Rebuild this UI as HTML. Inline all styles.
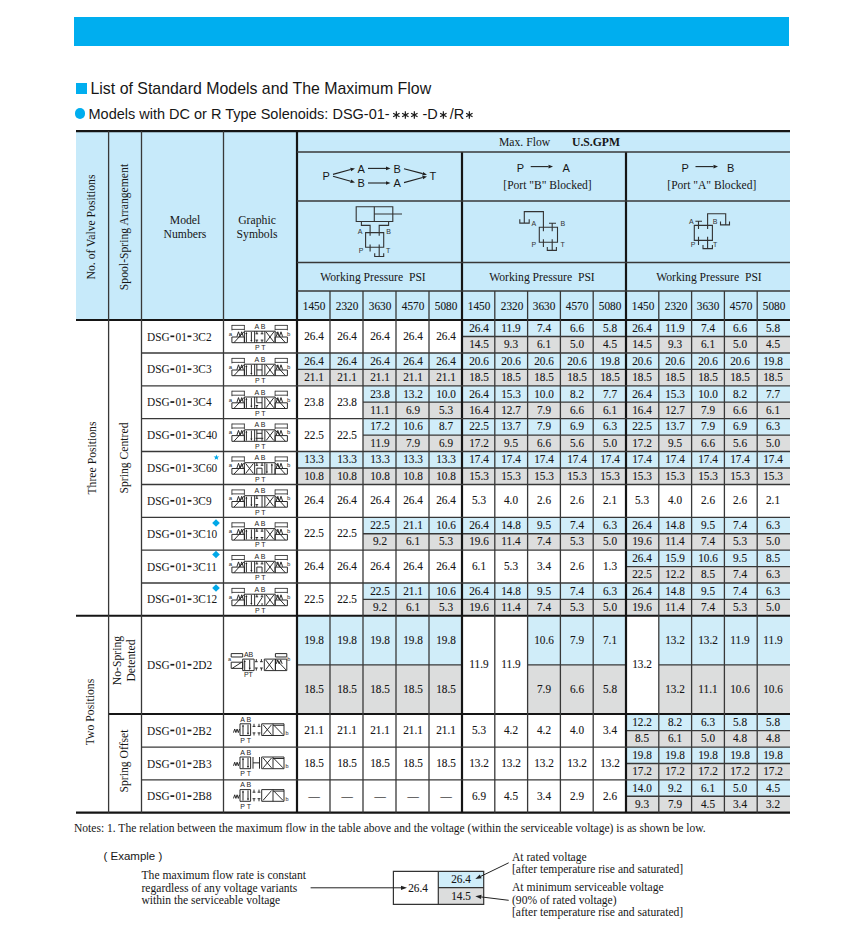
<!DOCTYPE html>
<html><head><meta charset="utf-8"><style>
html,body{margin:0;padding:0;background:#fff;}
.astw{margin:0 4.1px 0 2.6px;}
.astx{margin:0 2.2px 0 1.1px;}
.as{vertical-align:-0.3px;margin:0;}
.n{position:absolute;width:100px;height:20px;line-height:20px;text-align:center;font-family:"Liberation Serif",serif;font-size:12.5px;color:#161616;transform:scaleX(0.9);white-space:pre;-webkit-text-stroke:0.12px #161616;}
.d{display:inline-block;width:4.2px;height:0;border-top:2px solid transparent;vertical-align:3px;margin:0 1.2px 0 0.9px;}
body{width:860px;height:932px;position:relative;overflow:hidden;color:#161616;}
</style></head><body>
<div style="position:absolute;left:74px;top:17px;width:715px;height:29px;background:#00aeef"></div><div style="position:absolute;left:76px;top:83px;width:11px;height:11px;background:#00aeef"></div><div style="position:absolute;left:90.5px;top:78.5px;height:20px;line-height:20px;font-family:'Liberation Sans',serif;font-size:15.9px;font-weight:normal;white-space:pre;color:#161616">List of Standard Models and The Maximum Flow</div><div style="position:absolute;left:74.5px;top:108px;width:10.5px;height:10.5px;background:#00aeef;border-radius:50%"></div><div style="position:absolute;left:88.5px;top:103.5px;height:20px;line-height:20px;font-family:'Liberation Sans',serif;font-size:14.5px;font-weight:normal;white-space:pre;color:#161616">Models with DC or R Type Solenoids: DSG-01-<span class=astw><svg class=as width=8.7 height=8 viewBox='-4.35 -4 8.7 8'><path d='M0 -3.7V3.7M3.20 1.85L-3.20 -1.85M-3.20 1.85L3.20 -1.85' stroke='#1a1a1a' stroke-width='1.2'/></svg><svg class=as width=8.7 height=8 viewBox='-4.35 -4 8.7 8'><path d='M0 -3.7V3.7M3.20 1.85L-3.20 -1.85M-3.20 1.85L3.20 -1.85' stroke='#1a1a1a' stroke-width='1.2'/></svg><svg class=as width=8.7 height=8 viewBox='-4.35 -4 8.7 8'><path d='M0 -3.7V3.7M3.20 1.85L-3.20 -1.85M-3.20 1.85L3.20 -1.85' stroke='#1a1a1a' stroke-width='1.2'/></svg></span>-D<span class=astx><svg class=as width=8.7 height=8 viewBox='-4.35 -4 8.7 8'><path d='M0 -3.7V3.7M3.20 1.85L-3.20 -1.85M-3.20 1.85L3.20 -1.85' stroke='#1a1a1a' stroke-width='1.2'/></svg></span>/R<span class=astx><svg class=as width=8.7 height=8 viewBox='-4.35 -4 8.7 8'><path d='M0 -3.7V3.7M3.20 1.85L-3.20 -1.85M-3.20 1.85L3.20 -1.85' stroke='#1a1a1a' stroke-width='1.2'/></svg></span></div><div style="position:absolute;left:76px;top:131.1px;width:714px;height:188.9px;background:#c7eafa"></div><div style="position:absolute;left:-8.0px;top:216.5px;width:200px;height:20px;line-height:20px;text-align:center;transform:rotate(-90deg);font-family:'Liberation Serif',serif;font-size:11.7px;color:#161616;white-space:pre">No. of Valve Positions</div><div style="position:absolute;left:24.5px;top:217px;width:200px;height:20px;line-height:20px;text-align:center;transform:rotate(-90deg);font-family:'Liberation Serif',serif;font-size:11.7px;color:#161616;white-space:pre">Spool-Spring Arrangement</div><div style="position:absolute;left:35px;top:210.5px;width:300px;height:20px;line-height:20px;text-align:center;font-family:'Liberation Serif',serif;font-size:11.7px;font-weight:normal;white-space:pre;color:#161616">Model</div><div style="position:absolute;left:35px;top:225px;width:300px;height:20px;line-height:20px;text-align:center;font-family:'Liberation Serif',serif;font-size:11.7px;font-weight:normal;white-space:pre;color:#161616">Numbers</div><div style="position:absolute;left:107px;top:210.5px;width:300px;height:20px;line-height:20px;text-align:center;font-family:'Liberation Serif',serif;font-size:11.7px;font-weight:normal;white-space:pre;color:#161616">Graphic</div><div style="position:absolute;left:107px;top:225px;width:300px;height:20px;line-height:20px;text-align:center;font-family:'Liberation Serif',serif;font-size:11.7px;font-weight:normal;white-space:pre;color:#161616">Symbols</div><div style="position:absolute;left:499.2px;top:132px;height:20px;line-height:20px;font-family:'Liberation Serif',serif;font-size:12.6px;font-weight:normal;white-space:pre;color:#161616;transform:scaleX(0.925);transform-origin:0 50%">Max. Flow</div><div style="position:absolute;left:572.4px;top:132px;height:20px;line-height:20px;font-family:'Liberation Serif',serif;font-size:12.6px;font-weight:bold;white-space:pre;color:#161616;transform:scaleX(0.925);transform-origin:0 50%">U.S.GPM</div><div style="position:absolute;left:223px;top:267.3px;width:300px;height:20px;line-height:20px;text-align:center;font-family:'Liberation Serif',serif;font-size:12.6px;font-weight:normal;white-space:pre;color:#161616;transform:scaleX(0.925)">Working Pressure  PSI</div><div class="n" style="left:263.80px;top:295.80px;">1450</div><div class="n" style="left:296.80px;top:295.80px;">2320</div><div class="n" style="left:329.80px;top:295.80px;">3630</div><div class="n" style="left:362.80px;top:295.80px;">4570</div><div class="n" style="left:395.80px;top:295.80px;">5080</div><div style="position:absolute;left:392.29999999999995px;top:267.3px;width:300px;height:20px;line-height:20px;text-align:center;font-family:'Liberation Serif',serif;font-size:12.6px;font-weight:normal;white-space:pre;color:#161616;transform:scaleX(0.925)">Working Pressure  PSI</div><div class="n" style="left:428.70px;top:295.80px;">1450</div><div class="n" style="left:461.50px;top:295.80px;">2320</div><div class="n" style="left:494.30px;top:295.80px;">3630</div><div class="n" style="left:527.10px;top:295.80px;">4570</div><div class="n" style="left:559.90px;top:295.80px;">5080</div><div style="position:absolute;left:559.2px;top:267.3px;width:300px;height:20px;line-height:20px;text-align:center;font-family:'Liberation Serif',serif;font-size:12.6px;font-weight:normal;white-space:pre;color:#161616;transform:scaleX(0.925)">Working Pressure  PSI</div><div class="n" style="left:592.70px;top:295.80px;">1450</div><div class="n" style="left:625.50px;top:295.80px;">2320</div><div class="n" style="left:658.30px;top:295.80px;">3630</div><div class="n" style="left:691.10px;top:295.80px;">4570</div><div class="n" style="left:723.90px;top:295.80px;">5080</div><div style="position:absolute;left:516.8px;top:158px;height:20px;line-height:20px;font-family:'Liberation Sans',serif;font-size:11px;font-weight:normal;white-space:pre;color:#161616">P</div><div style="position:absolute;left:562.5px;top:158px;height:20px;line-height:20px;font-family:'Liberation Sans',serif;font-size:11px;font-weight:normal;white-space:pre;color:#161616">A</div><div style="position:absolute;left:397.5px;top:175px;width:300px;height:20px;line-height:20px;text-align:center;font-family:'Liberation Serif',serif;font-size:11.55px;font-weight:normal;white-space:pre;color:#161616">[Port "B" Blocked]</div><div style="position:absolute;left:681.5px;top:158px;height:20px;line-height:20px;font-family:'Liberation Sans',serif;font-size:11px;font-weight:normal;white-space:pre;color:#161616">P</div><div style="position:absolute;left:727px;top:158px;height:20px;line-height:20px;font-family:'Liberation Sans',serif;font-size:11px;font-weight:normal;white-space:pre;color:#161616">B</div><div style="position:absolute;left:561.8px;top:175px;width:300px;height:20px;line-height:20px;text-align:center;font-family:'Liberation Serif',serif;font-size:11.55px;font-weight:normal;white-space:pre;color:#161616">[Port "A" Blocked]</div><div style="position:absolute;left:322.6px;top:166px;height:20px;line-height:20px;font-family:'Liberation Sans',serif;font-size:11px;font-weight:normal;white-space:pre;color:#161616">P</div><div style="position:absolute;left:357.4px;top:159px;height:20px;line-height:20px;font-family:'Liberation Sans',serif;font-size:11px;font-weight:normal;white-space:pre;color:#161616">A</div><div style="position:absolute;left:393.4px;top:159px;height:20px;line-height:20px;font-family:'Liberation Sans',serif;font-size:11px;font-weight:normal;white-space:pre;color:#161616">B</div><div style="position:absolute;left:357.4px;top:173px;height:20px;line-height:20px;font-family:'Liberation Sans',serif;font-size:11px;font-weight:normal;white-space:pre;color:#161616">B</div><div style="position:absolute;left:393.6px;top:173px;height:20px;line-height:20px;font-family:'Liberation Sans',serif;font-size:11px;font-weight:normal;white-space:pre;color:#161616">A</div><div style="position:absolute;left:429.4px;top:166px;height:20px;line-height:20px;font-family:'Liberation Sans',serif;font-size:11px;font-weight:normal;white-space:pre;color:#161616">T</div><div class="n" style="left:264.20px;top:326.00px;">26.4</div><div class="n" style="left:297.20px;top:326.00px;">26.4</div><div class="n" style="left:330.20px;top:326.00px;">26.4</div><div class="n" style="left:363.20px;top:326.00px;">26.4</div><div class="n" style="left:396.20px;top:326.00px;">26.4</div><div style="position:absolute;left:297.0px;top:353px;width:33.0px;height:16.399999999999977px;background:#d0edf9"></div><div style="position:absolute;left:297.0px;top:369.4px;width:33.0px;height:16.400000000000034px;background:#dcdddd"></div><div class="n" style="left:264.20px;top:350.70px;">26.4</div><div class="n" style="left:264.20px;top:367.10px;">21.1</div><div style="position:absolute;left:330.0px;top:353px;width:33.0px;height:16.399999999999977px;background:#d0edf9"></div><div style="position:absolute;left:330.0px;top:369.4px;width:33.0px;height:16.400000000000034px;background:#dcdddd"></div><div class="n" style="left:297.20px;top:350.70px;">26.4</div><div class="n" style="left:297.20px;top:367.10px;">21.1</div><div style="position:absolute;left:363.0px;top:353px;width:33.0px;height:16.399999999999977px;background:#d0edf9"></div><div style="position:absolute;left:363.0px;top:369.4px;width:33.0px;height:16.400000000000034px;background:#dcdddd"></div><div class="n" style="left:330.20px;top:350.70px;">26.4</div><div class="n" style="left:330.20px;top:367.10px;">21.1</div><div style="position:absolute;left:396.0px;top:353px;width:33.0px;height:16.399999999999977px;background:#d0edf9"></div><div style="position:absolute;left:396.0px;top:369.4px;width:33.0px;height:16.400000000000034px;background:#dcdddd"></div><div class="n" style="left:363.20px;top:350.70px;">26.4</div><div class="n" style="left:363.20px;top:367.10px;">21.1</div><div style="position:absolute;left:429.0px;top:353px;width:33.0px;height:16.399999999999977px;background:#d0edf9"></div><div style="position:absolute;left:429.0px;top:369.4px;width:33.0px;height:16.400000000000034px;background:#dcdddd"></div><div class="n" style="left:396.20px;top:350.70px;">26.4</div><div class="n" style="left:396.20px;top:367.10px;">21.1</div><div class="n" style="left:264.20px;top:391.70px;">23.8</div><div class="n" style="left:297.20px;top:391.70px;">23.8</div><div style="position:absolute;left:363.0px;top:385.8px;width:33.0px;height:16.400000000000034px;background:#d0edf9"></div><div style="position:absolute;left:363.0px;top:402.20000000000005px;width:33.0px;height:16.399999999999977px;background:#dcdddd"></div><div class="n" style="left:330.20px;top:383.50px;">23.8</div><div class="n" style="left:330.20px;top:399.90px;">11.1</div><div style="position:absolute;left:396.0px;top:385.8px;width:33.0px;height:16.400000000000034px;background:#d0edf9"></div><div style="position:absolute;left:396.0px;top:402.20000000000005px;width:33.0px;height:16.399999999999977px;background:#dcdddd"></div><div class="n" style="left:363.20px;top:383.50px;">13.2</div><div class="n" style="left:363.20px;top:399.90px;">6.9</div><div style="position:absolute;left:429.0px;top:385.8px;width:33.0px;height:16.400000000000034px;background:#d0edf9"></div><div style="position:absolute;left:429.0px;top:402.20000000000005px;width:33.0px;height:16.399999999999977px;background:#dcdddd"></div><div class="n" style="left:396.20px;top:383.50px;">10.0</div><div class="n" style="left:396.20px;top:399.90px;">5.3</div><div class="n" style="left:264.20px;top:424.55px;">22.5</div><div class="n" style="left:297.20px;top:424.55px;">22.5</div><div style="position:absolute;left:363.0px;top:418.6px;width:33.0px;height:16.44999999999999px;background:#d0edf9"></div><div style="position:absolute;left:363.0px;top:435.05px;width:33.0px;height:16.44999999999999px;background:#dcdddd"></div><div class="n" style="left:330.20px;top:416.33px;">17.2</div><div class="n" style="left:330.20px;top:432.77px;">11.9</div><div style="position:absolute;left:396.0px;top:418.6px;width:33.0px;height:16.44999999999999px;background:#d0edf9"></div><div style="position:absolute;left:396.0px;top:435.05px;width:33.0px;height:16.44999999999999px;background:#dcdddd"></div><div class="n" style="left:363.20px;top:416.33px;">10.6</div><div class="n" style="left:363.20px;top:432.77px;">7.9</div><div style="position:absolute;left:429.0px;top:418.6px;width:33.0px;height:16.44999999999999px;background:#d0edf9"></div><div style="position:absolute;left:429.0px;top:435.05px;width:33.0px;height:16.44999999999999px;background:#dcdddd"></div><div class="n" style="left:396.20px;top:416.33px;">8.7</div><div class="n" style="left:396.20px;top:432.77px;">6.9</div><div style="position:absolute;left:297.0px;top:451.5px;width:33.0px;height:16.5px;background:#d0edf9"></div><div style="position:absolute;left:297.0px;top:468.0px;width:33.0px;height:16.5px;background:#dcdddd"></div><div class="n" style="left:264.20px;top:449.25px;">13.3</div><div class="n" style="left:264.20px;top:465.75px;">10.8</div><div style="position:absolute;left:330.0px;top:451.5px;width:33.0px;height:16.5px;background:#d0edf9"></div><div style="position:absolute;left:330.0px;top:468.0px;width:33.0px;height:16.5px;background:#dcdddd"></div><div class="n" style="left:297.20px;top:449.25px;">13.3</div><div class="n" style="left:297.20px;top:465.75px;">10.8</div><div style="position:absolute;left:363.0px;top:451.5px;width:33.0px;height:16.5px;background:#d0edf9"></div><div style="position:absolute;left:363.0px;top:468.0px;width:33.0px;height:16.5px;background:#dcdddd"></div><div class="n" style="left:330.20px;top:449.25px;">13.3</div><div class="n" style="left:330.20px;top:465.75px;">10.8</div><div style="position:absolute;left:396.0px;top:451.5px;width:33.0px;height:16.5px;background:#d0edf9"></div><div style="position:absolute;left:396.0px;top:468.0px;width:33.0px;height:16.5px;background:#dcdddd"></div><div class="n" style="left:363.20px;top:449.25px;">13.3</div><div class="n" style="left:363.20px;top:465.75px;">10.8</div><div style="position:absolute;left:429.0px;top:451.5px;width:33.0px;height:16.5px;background:#d0edf9"></div><div style="position:absolute;left:429.0px;top:468.0px;width:33.0px;height:16.5px;background:#dcdddd"></div><div class="n" style="left:396.20px;top:449.25px;">13.3</div><div class="n" style="left:396.20px;top:465.75px;">10.8</div><div class="n" style="left:264.20px;top:490.45px;">26.4</div><div class="n" style="left:297.20px;top:490.45px;">26.4</div><div class="n" style="left:330.20px;top:490.45px;">26.4</div><div class="n" style="left:363.20px;top:490.45px;">26.4</div><div class="n" style="left:396.20px;top:490.45px;">26.4</div><div class="n" style="left:264.20px;top:523.25px;">22.5</div><div class="n" style="left:297.20px;top:523.25px;">22.5</div><div style="position:absolute;left:363.0px;top:517.4px;width:33.0px;height:16.350000000000023px;background:#d0edf9"></div><div style="position:absolute;left:363.0px;top:533.75px;width:33.0px;height:16.350000000000023px;background:#dcdddd"></div><div class="n" style="left:330.20px;top:515.08px;">22.5</div><div class="n" style="left:330.20px;top:531.42px;">9.2</div><div style="position:absolute;left:396.0px;top:517.4px;width:33.0px;height:16.350000000000023px;background:#d0edf9"></div><div style="position:absolute;left:396.0px;top:533.75px;width:33.0px;height:16.350000000000023px;background:#dcdddd"></div><div class="n" style="left:363.20px;top:515.08px;">21.1</div><div class="n" style="left:363.20px;top:531.42px;">6.1</div><div style="position:absolute;left:429.0px;top:517.4px;width:33.0px;height:16.350000000000023px;background:#d0edf9"></div><div style="position:absolute;left:429.0px;top:533.75px;width:33.0px;height:16.350000000000023px;background:#dcdddd"></div><div class="n" style="left:396.20px;top:515.08px;">10.6</div><div class="n" style="left:396.20px;top:531.42px;">5.3</div><div class="n" style="left:264.20px;top:556.05px;">26.4</div><div class="n" style="left:297.20px;top:556.05px;">26.4</div><div class="n" style="left:330.20px;top:556.05px;">26.4</div><div class="n" style="left:363.20px;top:556.05px;">26.4</div><div class="n" style="left:396.20px;top:556.05px;">26.4</div><div class="n" style="left:264.20px;top:588.90px;">22.5</div><div class="n" style="left:297.20px;top:588.90px;">22.5</div><div style="position:absolute;left:363.0px;top:583px;width:33.0px;height:16.399999999999977px;background:#d0edf9"></div><div style="position:absolute;left:363.0px;top:599.4px;width:33.0px;height:16.399999999999977px;background:#dcdddd"></div><div class="n" style="left:330.20px;top:580.70px;">22.5</div><div class="n" style="left:330.20px;top:597.10px;">9.2</div><div style="position:absolute;left:396.0px;top:583px;width:33.0px;height:16.399999999999977px;background:#d0edf9"></div><div style="position:absolute;left:396.0px;top:599.4px;width:33.0px;height:16.399999999999977px;background:#dcdddd"></div><div class="n" style="left:363.20px;top:580.70px;">21.1</div><div class="n" style="left:363.20px;top:597.10px;">6.1</div><div style="position:absolute;left:429.0px;top:583px;width:33.0px;height:16.399999999999977px;background:#d0edf9"></div><div style="position:absolute;left:429.0px;top:599.4px;width:33.0px;height:16.399999999999977px;background:#dcdddd"></div><div class="n" style="left:396.20px;top:580.70px;">10.6</div><div class="n" style="left:396.20px;top:597.10px;">5.3</div><div style="position:absolute;left:297.0px;top:615.8px;width:33.0px;height:49.10000000000002px;background:#d0edf9"></div><div style="position:absolute;left:297.0px;top:664.9px;width:33.0px;height:49.10000000000002px;background:#dcdddd"></div><div class="n" style="left:264.20px;top:629.85px;">19.8</div><div class="n" style="left:264.20px;top:678.95px;">18.5</div><div style="position:absolute;left:330.0px;top:615.8px;width:33.0px;height:49.10000000000002px;background:#d0edf9"></div><div style="position:absolute;left:330.0px;top:664.9px;width:33.0px;height:49.10000000000002px;background:#dcdddd"></div><div class="n" style="left:297.20px;top:629.85px;">19.8</div><div class="n" style="left:297.20px;top:678.95px;">18.5</div><div style="position:absolute;left:363.0px;top:615.8px;width:33.0px;height:49.10000000000002px;background:#d0edf9"></div><div style="position:absolute;left:363.0px;top:664.9px;width:33.0px;height:49.10000000000002px;background:#dcdddd"></div><div class="n" style="left:330.20px;top:629.85px;">19.8</div><div class="n" style="left:330.20px;top:678.95px;">18.5</div><div style="position:absolute;left:396.0px;top:615.8px;width:33.0px;height:49.10000000000002px;background:#d0edf9"></div><div style="position:absolute;left:396.0px;top:664.9px;width:33.0px;height:49.10000000000002px;background:#dcdddd"></div><div class="n" style="left:363.20px;top:629.85px;">19.8</div><div class="n" style="left:363.20px;top:678.95px;">18.5</div><div style="position:absolute;left:429.0px;top:615.8px;width:33.0px;height:49.10000000000002px;background:#d0edf9"></div><div style="position:absolute;left:429.0px;top:664.9px;width:33.0px;height:49.10000000000002px;background:#dcdddd"></div><div class="n" style="left:396.20px;top:629.85px;">19.8</div><div class="n" style="left:396.20px;top:678.95px;">18.5</div><div class="n" style="left:264.20px;top:720.10px;">21.1</div><div class="n" style="left:297.20px;top:720.10px;">21.1</div><div class="n" style="left:330.20px;top:720.10px;">21.1</div><div class="n" style="left:363.20px;top:720.10px;">21.1</div><div class="n" style="left:396.20px;top:720.10px;">21.1</div><div class="n" style="left:264.20px;top:753.00px;">18.5</div><div class="n" style="left:297.20px;top:753.00px;">18.5</div><div class="n" style="left:330.20px;top:753.00px;">18.5</div><div class="n" style="left:363.20px;top:753.00px;">18.5</div><div class="n" style="left:396.20px;top:753.00px;">18.5</div><div class="n" style="left:264.20px;top:785.75px;">—</div><div class="n" style="left:297.20px;top:785.75px;">—</div><div class="n" style="left:330.20px;top:785.75px;">—</div><div class="n" style="left:363.20px;top:785.75px;">—</div><div class="n" style="left:396.20px;top:785.75px;">—</div><div style="position:absolute;left:462.0px;top:320px;width:32.80000000000001px;height:16.5px;background:#d0edf9"></div><div style="position:absolute;left:462.0px;top:336.5px;width:32.80000000000001px;height:16.5px;background:#dcdddd"></div><div class="n" style="left:428.60px;top:317.75px;">26.4</div><div class="n" style="left:428.60px;top:334.25px;">14.5</div><div style="position:absolute;left:494.8px;top:320px;width:32.80000000000001px;height:16.5px;background:#d0edf9"></div><div style="position:absolute;left:494.8px;top:336.5px;width:32.80000000000001px;height:16.5px;background:#dcdddd"></div><div class="n" style="left:461.40px;top:317.75px;">11.9</div><div class="n" style="left:461.40px;top:334.25px;">9.3</div><div style="position:absolute;left:527.6px;top:320px;width:32.799999999999955px;height:16.5px;background:#d0edf9"></div><div style="position:absolute;left:527.6px;top:336.5px;width:32.799999999999955px;height:16.5px;background:#dcdddd"></div><div class="n" style="left:494.20px;top:317.75px;">7.4</div><div class="n" style="left:494.20px;top:334.25px;">6.1</div><div style="position:absolute;left:560.4px;top:320px;width:32.80000000000007px;height:16.5px;background:#d0edf9"></div><div style="position:absolute;left:560.4px;top:336.5px;width:32.80000000000007px;height:16.5px;background:#dcdddd"></div><div class="n" style="left:527.00px;top:317.75px;">6.6</div><div class="n" style="left:527.00px;top:334.25px;">5.0</div><div style="position:absolute;left:593.2px;top:320px;width:32.799999999999955px;height:16.5px;background:#d0edf9"></div><div style="position:absolute;left:593.2px;top:336.5px;width:32.799999999999955px;height:16.5px;background:#dcdddd"></div><div class="n" style="left:559.80px;top:317.75px;">5.8</div><div class="n" style="left:559.80px;top:334.25px;">4.5</div><div style="position:absolute;left:462.0px;top:353px;width:32.80000000000001px;height:16.399999999999977px;background:#d0edf9"></div><div style="position:absolute;left:462.0px;top:369.4px;width:32.80000000000001px;height:16.400000000000034px;background:#dcdddd"></div><div class="n" style="left:428.60px;top:350.70px;">20.6</div><div class="n" style="left:428.60px;top:367.10px;">18.5</div><div style="position:absolute;left:494.8px;top:353px;width:32.80000000000001px;height:16.399999999999977px;background:#d0edf9"></div><div style="position:absolute;left:494.8px;top:369.4px;width:32.80000000000001px;height:16.400000000000034px;background:#dcdddd"></div><div class="n" style="left:461.40px;top:350.70px;">20.6</div><div class="n" style="left:461.40px;top:367.10px;">18.5</div><div style="position:absolute;left:527.6px;top:353px;width:32.799999999999955px;height:16.399999999999977px;background:#d0edf9"></div><div style="position:absolute;left:527.6px;top:369.4px;width:32.799999999999955px;height:16.400000000000034px;background:#dcdddd"></div><div class="n" style="left:494.20px;top:350.70px;">20.6</div><div class="n" style="left:494.20px;top:367.10px;">18.5</div><div style="position:absolute;left:560.4px;top:353px;width:32.80000000000007px;height:16.399999999999977px;background:#d0edf9"></div><div style="position:absolute;left:560.4px;top:369.4px;width:32.80000000000007px;height:16.400000000000034px;background:#dcdddd"></div><div class="n" style="left:527.00px;top:350.70px;">20.6</div><div class="n" style="left:527.00px;top:367.10px;">18.5</div><div style="position:absolute;left:593.2px;top:353px;width:32.799999999999955px;height:16.399999999999977px;background:#d0edf9"></div><div style="position:absolute;left:593.2px;top:369.4px;width:32.799999999999955px;height:16.400000000000034px;background:#dcdddd"></div><div class="n" style="left:559.80px;top:350.70px;">19.8</div><div class="n" style="left:559.80px;top:367.10px;">18.5</div><div style="position:absolute;left:462.0px;top:385.8px;width:32.80000000000001px;height:16.400000000000034px;background:#d0edf9"></div><div style="position:absolute;left:462.0px;top:402.20000000000005px;width:32.80000000000001px;height:16.399999999999977px;background:#dcdddd"></div><div class="n" style="left:428.60px;top:383.50px;">26.4</div><div class="n" style="left:428.60px;top:399.90px;">16.4</div><div style="position:absolute;left:494.8px;top:385.8px;width:32.80000000000001px;height:16.400000000000034px;background:#d0edf9"></div><div style="position:absolute;left:494.8px;top:402.20000000000005px;width:32.80000000000001px;height:16.399999999999977px;background:#dcdddd"></div><div class="n" style="left:461.40px;top:383.50px;">15.3</div><div class="n" style="left:461.40px;top:399.90px;">12.7</div><div style="position:absolute;left:527.6px;top:385.8px;width:32.799999999999955px;height:16.400000000000034px;background:#d0edf9"></div><div style="position:absolute;left:527.6px;top:402.20000000000005px;width:32.799999999999955px;height:16.399999999999977px;background:#dcdddd"></div><div class="n" style="left:494.20px;top:383.50px;">10.0</div><div class="n" style="left:494.20px;top:399.90px;">7.9</div><div style="position:absolute;left:560.4px;top:385.8px;width:32.80000000000007px;height:16.400000000000034px;background:#d0edf9"></div><div style="position:absolute;left:560.4px;top:402.20000000000005px;width:32.80000000000007px;height:16.399999999999977px;background:#dcdddd"></div><div class="n" style="left:527.00px;top:383.50px;">8.2</div><div class="n" style="left:527.00px;top:399.90px;">6.6</div><div style="position:absolute;left:593.2px;top:385.8px;width:32.799999999999955px;height:16.400000000000034px;background:#d0edf9"></div><div style="position:absolute;left:593.2px;top:402.20000000000005px;width:32.799999999999955px;height:16.399999999999977px;background:#dcdddd"></div><div class="n" style="left:559.80px;top:383.50px;">7.7</div><div class="n" style="left:559.80px;top:399.90px;">6.1</div><div style="position:absolute;left:462.0px;top:418.6px;width:32.80000000000001px;height:16.44999999999999px;background:#d0edf9"></div><div style="position:absolute;left:462.0px;top:435.05px;width:32.80000000000001px;height:16.44999999999999px;background:#dcdddd"></div><div class="n" style="left:428.60px;top:416.33px;">22.5</div><div class="n" style="left:428.60px;top:432.77px;">17.2</div><div style="position:absolute;left:494.8px;top:418.6px;width:32.80000000000001px;height:16.44999999999999px;background:#d0edf9"></div><div style="position:absolute;left:494.8px;top:435.05px;width:32.80000000000001px;height:16.44999999999999px;background:#dcdddd"></div><div class="n" style="left:461.40px;top:416.33px;">13.7</div><div class="n" style="left:461.40px;top:432.77px;">9.5</div><div style="position:absolute;left:527.6px;top:418.6px;width:32.799999999999955px;height:16.44999999999999px;background:#d0edf9"></div><div style="position:absolute;left:527.6px;top:435.05px;width:32.799999999999955px;height:16.44999999999999px;background:#dcdddd"></div><div class="n" style="left:494.20px;top:416.33px;">7.9</div><div class="n" style="left:494.20px;top:432.77px;">6.6</div><div style="position:absolute;left:560.4px;top:418.6px;width:32.80000000000007px;height:16.44999999999999px;background:#d0edf9"></div><div style="position:absolute;left:560.4px;top:435.05px;width:32.80000000000007px;height:16.44999999999999px;background:#dcdddd"></div><div class="n" style="left:527.00px;top:416.33px;">6.9</div><div class="n" style="left:527.00px;top:432.77px;">5.6</div><div style="position:absolute;left:593.2px;top:418.6px;width:32.799999999999955px;height:16.44999999999999px;background:#d0edf9"></div><div style="position:absolute;left:593.2px;top:435.05px;width:32.799999999999955px;height:16.44999999999999px;background:#dcdddd"></div><div class="n" style="left:559.80px;top:416.33px;">6.3</div><div class="n" style="left:559.80px;top:432.77px;">5.0</div><div style="position:absolute;left:462.0px;top:451.5px;width:32.80000000000001px;height:16.5px;background:#d0edf9"></div><div style="position:absolute;left:462.0px;top:468.0px;width:32.80000000000001px;height:16.5px;background:#dcdddd"></div><div class="n" style="left:428.60px;top:449.25px;">17.4</div><div class="n" style="left:428.60px;top:465.75px;">15.3</div><div style="position:absolute;left:494.8px;top:451.5px;width:32.80000000000001px;height:16.5px;background:#d0edf9"></div><div style="position:absolute;left:494.8px;top:468.0px;width:32.80000000000001px;height:16.5px;background:#dcdddd"></div><div class="n" style="left:461.40px;top:449.25px;">17.4</div><div class="n" style="left:461.40px;top:465.75px;">15.3</div><div style="position:absolute;left:527.6px;top:451.5px;width:32.799999999999955px;height:16.5px;background:#d0edf9"></div><div style="position:absolute;left:527.6px;top:468.0px;width:32.799999999999955px;height:16.5px;background:#dcdddd"></div><div class="n" style="left:494.20px;top:449.25px;">17.4</div><div class="n" style="left:494.20px;top:465.75px;">15.3</div><div style="position:absolute;left:560.4px;top:451.5px;width:32.80000000000007px;height:16.5px;background:#d0edf9"></div><div style="position:absolute;left:560.4px;top:468.0px;width:32.80000000000007px;height:16.5px;background:#dcdddd"></div><div class="n" style="left:527.00px;top:449.25px;">17.4</div><div class="n" style="left:527.00px;top:465.75px;">15.3</div><div style="position:absolute;left:593.2px;top:451.5px;width:32.799999999999955px;height:16.5px;background:#d0edf9"></div><div style="position:absolute;left:593.2px;top:468.0px;width:32.799999999999955px;height:16.5px;background:#dcdddd"></div><div class="n" style="left:559.80px;top:449.25px;">17.4</div><div class="n" style="left:559.80px;top:465.75px;">15.3</div><div class="n" style="left:428.60px;top:490.45px;">5.3</div><div class="n" style="left:461.40px;top:490.45px;">4.0</div><div class="n" style="left:494.20px;top:490.45px;">2.6</div><div class="n" style="left:527.00px;top:490.45px;">2.6</div><div class="n" style="left:559.80px;top:490.45px;">2.1</div><div style="position:absolute;left:462.0px;top:517.4px;width:32.80000000000001px;height:16.350000000000023px;background:#d0edf9"></div><div style="position:absolute;left:462.0px;top:533.75px;width:32.80000000000001px;height:16.350000000000023px;background:#dcdddd"></div><div class="n" style="left:428.60px;top:515.08px;">26.4</div><div class="n" style="left:428.60px;top:531.42px;">19.6</div><div style="position:absolute;left:494.8px;top:517.4px;width:32.80000000000001px;height:16.350000000000023px;background:#d0edf9"></div><div style="position:absolute;left:494.8px;top:533.75px;width:32.80000000000001px;height:16.350000000000023px;background:#dcdddd"></div><div class="n" style="left:461.40px;top:515.08px;">14.8</div><div class="n" style="left:461.40px;top:531.42px;">11.4</div><div style="position:absolute;left:527.6px;top:517.4px;width:32.799999999999955px;height:16.350000000000023px;background:#d0edf9"></div><div style="position:absolute;left:527.6px;top:533.75px;width:32.799999999999955px;height:16.350000000000023px;background:#dcdddd"></div><div class="n" style="left:494.20px;top:515.08px;">9.5</div><div class="n" style="left:494.20px;top:531.42px;">7.4</div><div style="position:absolute;left:560.4px;top:517.4px;width:32.80000000000007px;height:16.350000000000023px;background:#d0edf9"></div><div style="position:absolute;left:560.4px;top:533.75px;width:32.80000000000007px;height:16.350000000000023px;background:#dcdddd"></div><div class="n" style="left:527.00px;top:515.08px;">7.4</div><div class="n" style="left:527.00px;top:531.42px;">5.3</div><div style="position:absolute;left:593.2px;top:517.4px;width:32.799999999999955px;height:16.350000000000023px;background:#d0edf9"></div><div style="position:absolute;left:593.2px;top:533.75px;width:32.799999999999955px;height:16.350000000000023px;background:#dcdddd"></div><div class="n" style="left:559.80px;top:515.08px;">6.3</div><div class="n" style="left:559.80px;top:531.42px;">5.0</div><div class="n" style="left:428.60px;top:556.05px;">6.1</div><div class="n" style="left:461.40px;top:556.05px;">5.3</div><div class="n" style="left:494.20px;top:556.05px;">3.4</div><div class="n" style="left:527.00px;top:556.05px;">2.6</div><div class="n" style="left:559.80px;top:556.05px;">1.3</div><div style="position:absolute;left:462.0px;top:583px;width:32.80000000000001px;height:16.399999999999977px;background:#d0edf9"></div><div style="position:absolute;left:462.0px;top:599.4px;width:32.80000000000001px;height:16.399999999999977px;background:#dcdddd"></div><div class="n" style="left:428.60px;top:580.70px;">26.4</div><div class="n" style="left:428.60px;top:597.10px;">19.6</div><div style="position:absolute;left:494.8px;top:583px;width:32.80000000000001px;height:16.399999999999977px;background:#d0edf9"></div><div style="position:absolute;left:494.8px;top:599.4px;width:32.80000000000001px;height:16.399999999999977px;background:#dcdddd"></div><div class="n" style="left:461.40px;top:580.70px;">14.8</div><div class="n" style="left:461.40px;top:597.10px;">11.4</div><div style="position:absolute;left:527.6px;top:583px;width:32.799999999999955px;height:16.399999999999977px;background:#d0edf9"></div><div style="position:absolute;left:527.6px;top:599.4px;width:32.799999999999955px;height:16.399999999999977px;background:#dcdddd"></div><div class="n" style="left:494.20px;top:580.70px;">9.5</div><div class="n" style="left:494.20px;top:597.10px;">7.4</div><div style="position:absolute;left:560.4px;top:583px;width:32.80000000000007px;height:16.399999999999977px;background:#d0edf9"></div><div style="position:absolute;left:560.4px;top:599.4px;width:32.80000000000007px;height:16.399999999999977px;background:#dcdddd"></div><div class="n" style="left:527.00px;top:580.70px;">7.4</div><div class="n" style="left:527.00px;top:597.10px;">5.3</div><div style="position:absolute;left:593.2px;top:583px;width:32.799999999999955px;height:16.399999999999977px;background:#d0edf9"></div><div style="position:absolute;left:593.2px;top:599.4px;width:32.799999999999955px;height:16.399999999999977px;background:#dcdddd"></div><div class="n" style="left:559.80px;top:580.70px;">6.3</div><div class="n" style="left:559.80px;top:597.10px;">5.0</div><div class="n" style="left:428.60px;top:654.40px;">11.9</div><div class="n" style="left:461.40px;top:654.40px;">11.9</div><div style="position:absolute;left:527.6px;top:615.8px;width:32.799999999999955px;height:49.10000000000002px;background:#d0edf9"></div><div style="position:absolute;left:527.6px;top:664.9px;width:32.799999999999955px;height:49.10000000000002px;background:#dcdddd"></div><div class="n" style="left:494.20px;top:629.85px;">10.6</div><div class="n" style="left:494.20px;top:678.95px;">7.9</div><div style="position:absolute;left:560.4px;top:615.8px;width:32.80000000000007px;height:49.10000000000002px;background:#d0edf9"></div><div style="position:absolute;left:560.4px;top:664.9px;width:32.80000000000007px;height:49.10000000000002px;background:#dcdddd"></div><div class="n" style="left:527.00px;top:629.85px;">7.9</div><div class="n" style="left:527.00px;top:678.95px;">6.6</div><div style="position:absolute;left:593.2px;top:615.8px;width:32.799999999999955px;height:49.10000000000002px;background:#d0edf9"></div><div style="position:absolute;left:593.2px;top:664.9px;width:32.799999999999955px;height:49.10000000000002px;background:#dcdddd"></div><div class="n" style="left:559.80px;top:629.85px;">7.1</div><div class="n" style="left:559.80px;top:678.95px;">5.8</div><div class="n" style="left:428.60px;top:720.10px;">5.3</div><div class="n" style="left:461.40px;top:720.10px;">4.2</div><div class="n" style="left:494.20px;top:720.10px;">4.2</div><div class="n" style="left:527.00px;top:720.10px;">4.0</div><div class="n" style="left:559.80px;top:720.10px;">3.4</div><div class="n" style="left:428.60px;top:753.00px;">13.2</div><div class="n" style="left:461.40px;top:753.00px;">13.2</div><div class="n" style="left:494.20px;top:753.00px;">13.2</div><div class="n" style="left:527.00px;top:753.00px;">13.2</div><div class="n" style="left:559.80px;top:753.00px;">13.2</div><div class="n" style="left:428.60px;top:785.75px;">6.9</div><div class="n" style="left:461.40px;top:785.75px;">4.5</div><div class="n" style="left:494.20px;top:785.75px;">3.4</div><div class="n" style="left:527.00px;top:785.75px;">2.9</div><div class="n" style="left:559.80px;top:785.75px;">2.6</div><div style="position:absolute;left:626.0px;top:320px;width:32.799999999999955px;height:16.5px;background:#d0edf9"></div><div style="position:absolute;left:626.0px;top:336.5px;width:32.799999999999955px;height:16.5px;background:#dcdddd"></div><div class="n" style="left:592.00px;top:317.75px;">26.4</div><div class="n" style="left:592.00px;top:334.25px;">14.5</div><div style="position:absolute;left:658.8px;top:320px;width:32.80000000000007px;height:16.5px;background:#d0edf9"></div><div style="position:absolute;left:658.8px;top:336.5px;width:32.80000000000007px;height:16.5px;background:#dcdddd"></div><div class="n" style="left:624.80px;top:317.75px;">11.9</div><div class="n" style="left:624.80px;top:334.25px;">9.3</div><div style="position:absolute;left:691.6px;top:320px;width:32.799999999999955px;height:16.5px;background:#d0edf9"></div><div style="position:absolute;left:691.6px;top:336.5px;width:32.799999999999955px;height:16.5px;background:#dcdddd"></div><div class="n" style="left:657.60px;top:317.75px;">7.4</div><div class="n" style="left:657.60px;top:334.25px;">6.1</div><div style="position:absolute;left:724.4px;top:320px;width:32.80000000000007px;height:16.5px;background:#d0edf9"></div><div style="position:absolute;left:724.4px;top:336.5px;width:32.80000000000007px;height:16.5px;background:#dcdddd"></div><div class="n" style="left:690.40px;top:317.75px;">6.6</div><div class="n" style="left:690.40px;top:334.25px;">5.0</div><div style="position:absolute;left:757.2px;top:320px;width:32.799999999999955px;height:16.5px;background:#d0edf9"></div><div style="position:absolute;left:757.2px;top:336.5px;width:32.799999999999955px;height:16.5px;background:#dcdddd"></div><div class="n" style="left:723.20px;top:317.75px;">5.8</div><div class="n" style="left:723.20px;top:334.25px;">4.5</div><div style="position:absolute;left:626.0px;top:353px;width:32.799999999999955px;height:16.399999999999977px;background:#d0edf9"></div><div style="position:absolute;left:626.0px;top:369.4px;width:32.799999999999955px;height:16.400000000000034px;background:#dcdddd"></div><div class="n" style="left:592.00px;top:350.70px;">20.6</div><div class="n" style="left:592.00px;top:367.10px;">18.5</div><div style="position:absolute;left:658.8px;top:353px;width:32.80000000000007px;height:16.399999999999977px;background:#d0edf9"></div><div style="position:absolute;left:658.8px;top:369.4px;width:32.80000000000007px;height:16.400000000000034px;background:#dcdddd"></div><div class="n" style="left:624.80px;top:350.70px;">20.6</div><div class="n" style="left:624.80px;top:367.10px;">18.5</div><div style="position:absolute;left:691.6px;top:353px;width:32.799999999999955px;height:16.399999999999977px;background:#d0edf9"></div><div style="position:absolute;left:691.6px;top:369.4px;width:32.799999999999955px;height:16.400000000000034px;background:#dcdddd"></div><div class="n" style="left:657.60px;top:350.70px;">20.6</div><div class="n" style="left:657.60px;top:367.10px;">18.5</div><div style="position:absolute;left:724.4px;top:353px;width:32.80000000000007px;height:16.399999999999977px;background:#d0edf9"></div><div style="position:absolute;left:724.4px;top:369.4px;width:32.80000000000007px;height:16.400000000000034px;background:#dcdddd"></div><div class="n" style="left:690.40px;top:350.70px;">20.6</div><div class="n" style="left:690.40px;top:367.10px;">18.5</div><div style="position:absolute;left:757.2px;top:353px;width:32.799999999999955px;height:16.399999999999977px;background:#d0edf9"></div><div style="position:absolute;left:757.2px;top:369.4px;width:32.799999999999955px;height:16.400000000000034px;background:#dcdddd"></div><div class="n" style="left:723.20px;top:350.70px;">19.8</div><div class="n" style="left:723.20px;top:367.10px;">18.5</div><div style="position:absolute;left:626.0px;top:385.8px;width:32.799999999999955px;height:16.400000000000034px;background:#d0edf9"></div><div style="position:absolute;left:626.0px;top:402.20000000000005px;width:32.799999999999955px;height:16.399999999999977px;background:#dcdddd"></div><div class="n" style="left:592.00px;top:383.50px;">26.4</div><div class="n" style="left:592.00px;top:399.90px;">16.4</div><div style="position:absolute;left:658.8px;top:385.8px;width:32.80000000000007px;height:16.400000000000034px;background:#d0edf9"></div><div style="position:absolute;left:658.8px;top:402.20000000000005px;width:32.80000000000007px;height:16.399999999999977px;background:#dcdddd"></div><div class="n" style="left:624.80px;top:383.50px;">15.3</div><div class="n" style="left:624.80px;top:399.90px;">12.7</div><div style="position:absolute;left:691.6px;top:385.8px;width:32.799999999999955px;height:16.400000000000034px;background:#d0edf9"></div><div style="position:absolute;left:691.6px;top:402.20000000000005px;width:32.799999999999955px;height:16.399999999999977px;background:#dcdddd"></div><div class="n" style="left:657.60px;top:383.50px;">10.0</div><div class="n" style="left:657.60px;top:399.90px;">7.9</div><div style="position:absolute;left:724.4px;top:385.8px;width:32.80000000000007px;height:16.400000000000034px;background:#d0edf9"></div><div style="position:absolute;left:724.4px;top:402.20000000000005px;width:32.80000000000007px;height:16.399999999999977px;background:#dcdddd"></div><div class="n" style="left:690.40px;top:383.50px;">8.2</div><div class="n" style="left:690.40px;top:399.90px;">6.6</div><div style="position:absolute;left:757.2px;top:385.8px;width:32.799999999999955px;height:16.400000000000034px;background:#d0edf9"></div><div style="position:absolute;left:757.2px;top:402.20000000000005px;width:32.799999999999955px;height:16.399999999999977px;background:#dcdddd"></div><div class="n" style="left:723.20px;top:383.50px;">7.7</div><div class="n" style="left:723.20px;top:399.90px;">6.1</div><div style="position:absolute;left:626.0px;top:418.6px;width:32.799999999999955px;height:16.44999999999999px;background:#d0edf9"></div><div style="position:absolute;left:626.0px;top:435.05px;width:32.799999999999955px;height:16.44999999999999px;background:#dcdddd"></div><div class="n" style="left:592.00px;top:416.33px;">22.5</div><div class="n" style="left:592.00px;top:432.77px;">17.2</div><div style="position:absolute;left:658.8px;top:418.6px;width:32.80000000000007px;height:16.44999999999999px;background:#d0edf9"></div><div style="position:absolute;left:658.8px;top:435.05px;width:32.80000000000007px;height:16.44999999999999px;background:#dcdddd"></div><div class="n" style="left:624.80px;top:416.33px;">13.7</div><div class="n" style="left:624.80px;top:432.77px;">9.5</div><div style="position:absolute;left:691.6px;top:418.6px;width:32.799999999999955px;height:16.44999999999999px;background:#d0edf9"></div><div style="position:absolute;left:691.6px;top:435.05px;width:32.799999999999955px;height:16.44999999999999px;background:#dcdddd"></div><div class="n" style="left:657.60px;top:416.33px;">7.9</div><div class="n" style="left:657.60px;top:432.77px;">6.6</div><div style="position:absolute;left:724.4px;top:418.6px;width:32.80000000000007px;height:16.44999999999999px;background:#d0edf9"></div><div style="position:absolute;left:724.4px;top:435.05px;width:32.80000000000007px;height:16.44999999999999px;background:#dcdddd"></div><div class="n" style="left:690.40px;top:416.33px;">6.9</div><div class="n" style="left:690.40px;top:432.77px;">5.6</div><div style="position:absolute;left:757.2px;top:418.6px;width:32.799999999999955px;height:16.44999999999999px;background:#d0edf9"></div><div style="position:absolute;left:757.2px;top:435.05px;width:32.799999999999955px;height:16.44999999999999px;background:#dcdddd"></div><div class="n" style="left:723.20px;top:416.33px;">6.3</div><div class="n" style="left:723.20px;top:432.77px;">5.0</div><div style="position:absolute;left:626.0px;top:451.5px;width:32.799999999999955px;height:16.5px;background:#d0edf9"></div><div style="position:absolute;left:626.0px;top:468.0px;width:32.799999999999955px;height:16.5px;background:#dcdddd"></div><div class="n" style="left:592.00px;top:449.25px;">17.4</div><div class="n" style="left:592.00px;top:465.75px;">15.3</div><div style="position:absolute;left:658.8px;top:451.5px;width:32.80000000000007px;height:16.5px;background:#d0edf9"></div><div style="position:absolute;left:658.8px;top:468.0px;width:32.80000000000007px;height:16.5px;background:#dcdddd"></div><div class="n" style="left:624.80px;top:449.25px;">17.4</div><div class="n" style="left:624.80px;top:465.75px;">15.3</div><div style="position:absolute;left:691.6px;top:451.5px;width:32.799999999999955px;height:16.5px;background:#d0edf9"></div><div style="position:absolute;left:691.6px;top:468.0px;width:32.799999999999955px;height:16.5px;background:#dcdddd"></div><div class="n" style="left:657.60px;top:449.25px;">17.4</div><div class="n" style="left:657.60px;top:465.75px;">15.3</div><div style="position:absolute;left:724.4px;top:451.5px;width:32.80000000000007px;height:16.5px;background:#d0edf9"></div><div style="position:absolute;left:724.4px;top:468.0px;width:32.80000000000007px;height:16.5px;background:#dcdddd"></div><div class="n" style="left:690.40px;top:449.25px;">17.4</div><div class="n" style="left:690.40px;top:465.75px;">15.3</div><div style="position:absolute;left:757.2px;top:451.5px;width:32.799999999999955px;height:16.5px;background:#d0edf9"></div><div style="position:absolute;left:757.2px;top:468.0px;width:32.799999999999955px;height:16.5px;background:#dcdddd"></div><div class="n" style="left:723.20px;top:449.25px;">17.4</div><div class="n" style="left:723.20px;top:465.75px;">15.3</div><div class="n" style="left:592.00px;top:490.45px;">5.3</div><div class="n" style="left:624.80px;top:490.45px;">4.0</div><div class="n" style="left:657.60px;top:490.45px;">2.6</div><div class="n" style="left:690.40px;top:490.45px;">2.6</div><div class="n" style="left:723.20px;top:490.45px;">2.1</div><div style="position:absolute;left:626.0px;top:517.4px;width:32.799999999999955px;height:16.350000000000023px;background:#d0edf9"></div><div style="position:absolute;left:626.0px;top:533.75px;width:32.799999999999955px;height:16.350000000000023px;background:#dcdddd"></div><div class="n" style="left:592.00px;top:515.08px;">26.4</div><div class="n" style="left:592.00px;top:531.42px;">19.6</div><div style="position:absolute;left:658.8px;top:517.4px;width:32.80000000000007px;height:16.350000000000023px;background:#d0edf9"></div><div style="position:absolute;left:658.8px;top:533.75px;width:32.80000000000007px;height:16.350000000000023px;background:#dcdddd"></div><div class="n" style="left:624.80px;top:515.08px;">14.8</div><div class="n" style="left:624.80px;top:531.42px;">11.4</div><div style="position:absolute;left:691.6px;top:517.4px;width:32.799999999999955px;height:16.350000000000023px;background:#d0edf9"></div><div style="position:absolute;left:691.6px;top:533.75px;width:32.799999999999955px;height:16.350000000000023px;background:#dcdddd"></div><div class="n" style="left:657.60px;top:515.08px;">9.5</div><div class="n" style="left:657.60px;top:531.42px;">7.4</div><div style="position:absolute;left:724.4px;top:517.4px;width:32.80000000000007px;height:16.350000000000023px;background:#d0edf9"></div><div style="position:absolute;left:724.4px;top:533.75px;width:32.80000000000007px;height:16.350000000000023px;background:#dcdddd"></div><div class="n" style="left:690.40px;top:515.08px;">7.4</div><div class="n" style="left:690.40px;top:531.42px;">5.3</div><div style="position:absolute;left:757.2px;top:517.4px;width:32.799999999999955px;height:16.350000000000023px;background:#d0edf9"></div><div style="position:absolute;left:757.2px;top:533.75px;width:32.799999999999955px;height:16.350000000000023px;background:#dcdddd"></div><div class="n" style="left:723.20px;top:515.08px;">6.3</div><div class="n" style="left:723.20px;top:531.42px;">5.0</div><div style="position:absolute;left:626.0px;top:550.1px;width:32.799999999999955px;height:16.449999999999932px;background:#d0edf9"></div><div style="position:absolute;left:626.0px;top:566.55px;width:32.799999999999955px;height:16.450000000000045px;background:#dcdddd"></div><div class="n" style="left:592.00px;top:547.83px;">26.4</div><div class="n" style="left:592.00px;top:564.27px;">22.5</div><div style="position:absolute;left:658.8px;top:550.1px;width:32.80000000000007px;height:16.449999999999932px;background:#d0edf9"></div><div style="position:absolute;left:658.8px;top:566.55px;width:32.80000000000007px;height:16.450000000000045px;background:#dcdddd"></div><div class="n" style="left:624.80px;top:547.83px;">15.9</div><div class="n" style="left:624.80px;top:564.27px;">12.2</div><div style="position:absolute;left:691.6px;top:550.1px;width:32.799999999999955px;height:16.449999999999932px;background:#d0edf9"></div><div style="position:absolute;left:691.6px;top:566.55px;width:32.799999999999955px;height:16.450000000000045px;background:#dcdddd"></div><div class="n" style="left:657.60px;top:547.83px;">10.6</div><div class="n" style="left:657.60px;top:564.27px;">8.5</div><div style="position:absolute;left:724.4px;top:550.1px;width:32.80000000000007px;height:16.449999999999932px;background:#d0edf9"></div><div style="position:absolute;left:724.4px;top:566.55px;width:32.80000000000007px;height:16.450000000000045px;background:#dcdddd"></div><div class="n" style="left:690.40px;top:547.83px;">9.5</div><div class="n" style="left:690.40px;top:564.27px;">7.4</div><div style="position:absolute;left:757.2px;top:550.1px;width:32.799999999999955px;height:16.449999999999932px;background:#d0edf9"></div><div style="position:absolute;left:757.2px;top:566.55px;width:32.799999999999955px;height:16.450000000000045px;background:#dcdddd"></div><div class="n" style="left:723.20px;top:547.83px;">8.5</div><div class="n" style="left:723.20px;top:564.27px;">6.3</div><div style="position:absolute;left:626.0px;top:583px;width:32.799999999999955px;height:16.399999999999977px;background:#d0edf9"></div><div style="position:absolute;left:626.0px;top:599.4px;width:32.799999999999955px;height:16.399999999999977px;background:#dcdddd"></div><div class="n" style="left:592.00px;top:580.70px;">26.4</div><div class="n" style="left:592.00px;top:597.10px;">19.6</div><div style="position:absolute;left:658.8px;top:583px;width:32.80000000000007px;height:16.399999999999977px;background:#d0edf9"></div><div style="position:absolute;left:658.8px;top:599.4px;width:32.80000000000007px;height:16.399999999999977px;background:#dcdddd"></div><div class="n" style="left:624.80px;top:580.70px;">14.8</div><div class="n" style="left:624.80px;top:597.10px;">11.4</div><div style="position:absolute;left:691.6px;top:583px;width:32.799999999999955px;height:16.399999999999977px;background:#d0edf9"></div><div style="position:absolute;left:691.6px;top:599.4px;width:32.799999999999955px;height:16.399999999999977px;background:#dcdddd"></div><div class="n" style="left:657.60px;top:580.70px;">9.5</div><div class="n" style="left:657.60px;top:597.10px;">7.4</div><div style="position:absolute;left:724.4px;top:583px;width:32.80000000000007px;height:16.399999999999977px;background:#d0edf9"></div><div style="position:absolute;left:724.4px;top:599.4px;width:32.80000000000007px;height:16.399999999999977px;background:#dcdddd"></div><div class="n" style="left:690.40px;top:580.70px;">7.4</div><div class="n" style="left:690.40px;top:597.10px;">5.3</div><div style="position:absolute;left:757.2px;top:583px;width:32.799999999999955px;height:16.399999999999977px;background:#d0edf9"></div><div style="position:absolute;left:757.2px;top:599.4px;width:32.799999999999955px;height:16.399999999999977px;background:#dcdddd"></div><div class="n" style="left:723.20px;top:580.70px;">6.3</div><div class="n" style="left:723.20px;top:597.10px;">5.0</div><div class="n" style="left:592.00px;top:654.40px;">13.2</div><div style="position:absolute;left:658.8px;top:615.8px;width:32.80000000000007px;height:49.10000000000002px;background:#d0edf9"></div><div style="position:absolute;left:658.8px;top:664.9px;width:32.80000000000007px;height:49.10000000000002px;background:#dcdddd"></div><div class="n" style="left:624.80px;top:629.85px;">13.2</div><div class="n" style="left:624.80px;top:678.95px;">13.2</div><div style="position:absolute;left:691.6px;top:615.8px;width:32.799999999999955px;height:49.10000000000002px;background:#d0edf9"></div><div style="position:absolute;left:691.6px;top:664.9px;width:32.799999999999955px;height:49.10000000000002px;background:#dcdddd"></div><div class="n" style="left:657.60px;top:629.85px;">13.2</div><div class="n" style="left:657.60px;top:678.95px;">11.1</div><div style="position:absolute;left:724.4px;top:615.8px;width:32.80000000000007px;height:49.10000000000002px;background:#d0edf9"></div><div style="position:absolute;left:724.4px;top:664.9px;width:32.80000000000007px;height:49.10000000000002px;background:#dcdddd"></div><div class="n" style="left:690.40px;top:629.85px;">11.9</div><div class="n" style="left:690.40px;top:678.95px;">10.6</div><div style="position:absolute;left:757.2px;top:615.8px;width:32.799999999999955px;height:49.10000000000002px;background:#d0edf9"></div><div style="position:absolute;left:757.2px;top:664.9px;width:32.799999999999955px;height:49.10000000000002px;background:#dcdddd"></div><div class="n" style="left:723.20px;top:629.85px;">11.9</div><div class="n" style="left:723.20px;top:678.95px;">10.6</div><div style="position:absolute;left:626.0px;top:714px;width:32.799999999999955px;height:16.600000000000023px;background:#d0edf9"></div><div style="position:absolute;left:626.0px;top:730.6px;width:32.799999999999955px;height:16.600000000000023px;background:#dcdddd"></div><div class="n" style="left:592.00px;top:711.80px;">12.2</div><div class="n" style="left:592.00px;top:728.40px;">8.5</div><div style="position:absolute;left:658.8px;top:714px;width:32.80000000000007px;height:16.600000000000023px;background:#d0edf9"></div><div style="position:absolute;left:658.8px;top:730.6px;width:32.80000000000007px;height:16.600000000000023px;background:#dcdddd"></div><div class="n" style="left:624.80px;top:711.80px;">8.2</div><div class="n" style="left:624.80px;top:728.40px;">6.1</div><div style="position:absolute;left:691.6px;top:714px;width:32.799999999999955px;height:16.600000000000023px;background:#d0edf9"></div><div style="position:absolute;left:691.6px;top:730.6px;width:32.799999999999955px;height:16.600000000000023px;background:#dcdddd"></div><div class="n" style="left:657.60px;top:711.80px;">6.3</div><div class="n" style="left:657.60px;top:728.40px;">5.0</div><div style="position:absolute;left:724.4px;top:714px;width:32.80000000000007px;height:16.600000000000023px;background:#d0edf9"></div><div style="position:absolute;left:724.4px;top:730.6px;width:32.80000000000007px;height:16.600000000000023px;background:#dcdddd"></div><div class="n" style="left:690.40px;top:711.80px;">5.8</div><div class="n" style="left:690.40px;top:728.40px;">4.8</div><div style="position:absolute;left:757.2px;top:714px;width:32.799999999999955px;height:16.600000000000023px;background:#d0edf9"></div><div style="position:absolute;left:757.2px;top:730.6px;width:32.799999999999955px;height:16.600000000000023px;background:#dcdddd"></div><div class="n" style="left:723.20px;top:711.80px;">5.8</div><div class="n" style="left:723.20px;top:728.40px;">4.8</div><div style="position:absolute;left:626.0px;top:747.2px;width:32.799999999999955px;height:16.299999999999955px;background:#d0edf9"></div><div style="position:absolute;left:626.0px;top:763.5px;width:32.799999999999955px;height:16.299999999999955px;background:#dcdddd"></div><div class="n" style="left:592.00px;top:744.85px;">19.8</div><div class="n" style="left:592.00px;top:761.15px;">17.2</div><div style="position:absolute;left:658.8px;top:747.2px;width:32.80000000000007px;height:16.299999999999955px;background:#d0edf9"></div><div style="position:absolute;left:658.8px;top:763.5px;width:32.80000000000007px;height:16.299999999999955px;background:#dcdddd"></div><div class="n" style="left:624.80px;top:744.85px;">19.8</div><div class="n" style="left:624.80px;top:761.15px;">17.2</div><div style="position:absolute;left:691.6px;top:747.2px;width:32.799999999999955px;height:16.299999999999955px;background:#d0edf9"></div><div style="position:absolute;left:691.6px;top:763.5px;width:32.799999999999955px;height:16.299999999999955px;background:#dcdddd"></div><div class="n" style="left:657.60px;top:744.85px;">19.8</div><div class="n" style="left:657.60px;top:761.15px;">17.2</div><div style="position:absolute;left:724.4px;top:747.2px;width:32.80000000000007px;height:16.299999999999955px;background:#d0edf9"></div><div style="position:absolute;left:724.4px;top:763.5px;width:32.80000000000007px;height:16.299999999999955px;background:#dcdddd"></div><div class="n" style="left:690.40px;top:744.85px;">19.8</div><div class="n" style="left:690.40px;top:761.15px;">17.2</div><div style="position:absolute;left:757.2px;top:747.2px;width:32.799999999999955px;height:16.299999999999955px;background:#d0edf9"></div><div style="position:absolute;left:757.2px;top:763.5px;width:32.799999999999955px;height:16.299999999999955px;background:#dcdddd"></div><div class="n" style="left:723.20px;top:744.85px;">19.8</div><div class="n" style="left:723.20px;top:761.15px;">17.2</div><div style="position:absolute;left:626.0px;top:779.8px;width:32.799999999999955px;height:16.450000000000045px;background:#d0edf9"></div><div style="position:absolute;left:626.0px;top:796.25px;width:32.799999999999955px;height:16.450000000000045px;background:#dcdddd"></div><div class="n" style="left:592.00px;top:777.52px;">14.0</div><div class="n" style="left:592.00px;top:793.98px;">9.3</div><div style="position:absolute;left:658.8px;top:779.8px;width:32.80000000000007px;height:16.450000000000045px;background:#d0edf9"></div><div style="position:absolute;left:658.8px;top:796.25px;width:32.80000000000007px;height:16.450000000000045px;background:#dcdddd"></div><div class="n" style="left:624.80px;top:777.52px;">9.2</div><div class="n" style="left:624.80px;top:793.98px;">7.9</div><div style="position:absolute;left:691.6px;top:779.8px;width:32.799999999999955px;height:16.450000000000045px;background:#d0edf9"></div><div style="position:absolute;left:691.6px;top:796.25px;width:32.799999999999955px;height:16.450000000000045px;background:#dcdddd"></div><div class="n" style="left:657.60px;top:777.52px;">6.1</div><div class="n" style="left:657.60px;top:793.98px;">4.5</div><div style="position:absolute;left:724.4px;top:779.8px;width:32.80000000000007px;height:16.450000000000045px;background:#d0edf9"></div><div style="position:absolute;left:724.4px;top:796.25px;width:32.80000000000007px;height:16.450000000000045px;background:#dcdddd"></div><div class="n" style="left:690.40px;top:777.52px;">5.0</div><div class="n" style="left:690.40px;top:793.98px;">3.4</div><div style="position:absolute;left:757.2px;top:779.8px;width:32.799999999999955px;height:16.450000000000045px;background:#d0edf9"></div><div style="position:absolute;left:757.2px;top:796.25px;width:32.799999999999955px;height:16.450000000000045px;background:#dcdddd"></div><div class="n" style="left:723.20px;top:777.52px;">4.5</div><div class="n" style="left:723.20px;top:793.98px;">3.2</div><div style="position:absolute;left:146.8px;top:326.5px;height:20px;line-height:20px;font-family:'Liberation Serif',serif;font-size:12.2px;font-weight:normal;white-space:pre;color:#161616;transform:scaleX(0.93);transform-origin:0 50%">DSG<i class=d></i>01<i class=d></i>3C2</div><div style="position:absolute;left:146.8px;top:359.4px;height:20px;line-height:20px;font-family:'Liberation Serif',serif;font-size:12.2px;font-weight:normal;white-space:pre;color:#161616;transform:scaleX(0.93);transform-origin:0 50%">DSG<i class=d></i>01<i class=d></i>3C3</div><div style="position:absolute;left:146.8px;top:392.20000000000005px;height:20px;line-height:20px;font-family:'Liberation Serif',serif;font-size:12.2px;font-weight:normal;white-space:pre;color:#161616;transform:scaleX(0.93);transform-origin:0 50%">DSG<i class=d></i>01<i class=d></i>3C4</div><div style="position:absolute;left:146.8px;top:425.05px;height:20px;line-height:20px;font-family:'Liberation Serif',serif;font-size:12.2px;font-weight:normal;white-space:pre;color:#161616;transform:scaleX(0.93);transform-origin:0 50%">DSG<i class=d></i>01<i class=d></i>3C40</div><div style="position:absolute;left:146.8px;top:458.0px;height:20px;line-height:20px;font-family:'Liberation Serif',serif;font-size:12.2px;font-weight:normal;white-space:pre;color:#161616;transform:scaleX(0.93);transform-origin:0 50%">DSG<i class=d></i>01<i class=d></i>3C60</div><div style="position:absolute;left:146.8px;top:490.95px;height:20px;line-height:20px;font-family:'Liberation Serif',serif;font-size:12.2px;font-weight:normal;white-space:pre;color:#161616;transform:scaleX(0.93);transform-origin:0 50%">DSG<i class=d></i>01<i class=d></i>3C9</div><div style="position:absolute;left:146.8px;top:523.75px;height:20px;line-height:20px;font-family:'Liberation Serif',serif;font-size:12.2px;font-weight:normal;white-space:pre;color:#161616;transform:scaleX(0.93);transform-origin:0 50%">DSG<i class=d></i>01<i class=d></i>3C10</div><div style="position:absolute;left:146.8px;top:556.55px;height:20px;line-height:20px;font-family:'Liberation Serif',serif;font-size:12.2px;font-weight:normal;white-space:pre;color:#161616;transform:scaleX(0.93);transform-origin:0 50%">DSG<i class=d></i>01<i class=d></i>3C11</div><div style="position:absolute;left:146.8px;top:589.4px;height:20px;line-height:20px;font-family:'Liberation Serif',serif;font-size:12.2px;font-weight:normal;white-space:pre;color:#161616;transform:scaleX(0.93);transform-origin:0 50%">DSG<i class=d></i>01<i class=d></i>3C12</div><div style="position:absolute;left:146.8px;top:654.9px;height:20px;line-height:20px;font-family:'Liberation Serif',serif;font-size:12.2px;font-weight:normal;white-space:pre;color:#161616;transform:scaleX(0.93);transform-origin:0 50%">DSG<i class=d></i>01<i class=d></i>2D2</div><div style="position:absolute;left:146.8px;top:720.6px;height:20px;line-height:20px;font-family:'Liberation Serif',serif;font-size:12.2px;font-weight:normal;white-space:pre;color:#161616;transform:scaleX(0.93);transform-origin:0 50%">DSG<i class=d></i>01<i class=d></i>2B2</div><div style="position:absolute;left:146.8px;top:753.5px;height:20px;line-height:20px;font-family:'Liberation Serif',serif;font-size:12.2px;font-weight:normal;white-space:pre;color:#161616;transform:scaleX(0.93);transform-origin:0 50%">DSG<i class=d></i>01<i class=d></i>2B3</div><div style="position:absolute;left:146.8px;top:786.25px;height:20px;line-height:20px;font-family:'Liberation Serif',serif;font-size:12.2px;font-weight:normal;white-space:pre;color:#161616;transform:scaleX(0.93);transform-origin:0 50%">DSG<i class=d></i>01<i class=d></i>2B8</div><div style="position:absolute;left:-7px;top:448.0px;width:200px;height:20px;line-height:20.0px;text-align:center;transform:rotate(-90deg);font-family:'Liberation Serif',serif;font-size:11.7px;color:#161616;white-space:pre">Three Positions</div><div style="position:absolute;left:24.700000000000003px;top:448.0px;width:200px;height:20px;line-height:20.0px;text-align:center;transform:rotate(-90deg);font-family:'Liberation Serif',serif;font-size:11.7px;color:#161616;white-space:pre">Spring Centred</div><div style="position:absolute;left:-9px;top:701.5px;width:200px;height:20px;line-height:20.0px;text-align:center;transform:rotate(-90deg);font-family:'Liberation Serif',serif;font-size:11.7px;color:#161616;white-space:pre">Two Positions</div><div style="position:absolute;left:24.200000000000003px;top:647.1px;width:200px;height:27px;line-height:13.5px;text-align:center;transform:rotate(-90deg);font-family:'Liberation Serif',serif;font-size:11.7px;color:#161616;white-space:pre">No-Spring<br>Detented</div><div style="position:absolute;left:24.700000000000003px;top:751.4px;width:200px;height:20px;line-height:20.0px;text-align:center;transform:rotate(-90deg);font-family:'Liberation Serif',serif;font-size:11.7px;color:#161616;white-space:pre">Spring Offset</div><div style="position:absolute;left:74px;top:817.6px;height:20px;line-height:20px;font-family:'Liberation Serif',serif;font-size:11.55px;font-weight:normal;white-space:pre;color:#161616">Notes: 1. The relation between the maximum flow in the table above and the voltage (within the serviceable voltage) is as shown be low.</div><div style="position:absolute;left:103.5px;top:846px;height:20px;line-height:20px;font-family:'Liberation Sans',serif;font-size:11.5px;font-weight:normal;white-space:pre;color:#161616">( Example )</div><div style="position:absolute;left:141.5px;top:866px;height:20px;line-height:20px;font-family:'Liberation Serif',serif;font-size:11.6px;font-weight:normal;white-space:pre;color:#161616">The maximum flow rate is constant</div><div style="position:absolute;left:141.5px;top:879px;height:20px;line-height:20px;font-family:'Liberation Serif',serif;font-size:11.6px;font-weight:normal;white-space:pre;color:#161616">regardless of any voltage variants</div><div style="position:absolute;left:141.5px;top:891.3px;height:20px;line-height:20px;font-family:'Liberation Serif',serif;font-size:11.6px;font-weight:normal;white-space:pre;color:#161616">within the serviceable voltage</div><div style="position:absolute;left:438.3px;top:871.3px;width:45.39999999999998px;height:16.40000000000009px;background:#d0edf9"></div><div style="position:absolute;left:438.3px;top:887.7px;width:45.39999999999998px;height:16.59999999999991px;background:#dcdddd"></div><div class="n" style="left:367.50px;top:877.50px;">26.4</div><div class="n" style="left:411.00px;top:869.00px;">26.4</div><div class="n" style="left:411.00px;top:885.50px;">14.5</div><div style="position:absolute;left:512px;top:847.8px;height:20px;line-height:20px;font-family:'Liberation Serif',serif;font-size:11.6px;font-weight:normal;white-space:pre;color:#161616">At rated voltage</div><div style="position:absolute;left:512px;top:860.4px;height:20px;line-height:20px;font-family:'Liberation Serif',serif;font-size:11.6px;font-weight:normal;white-space:pre;color:#161616">[after temperature rise and saturated]</div><div style="position:absolute;left:512px;top:878px;height:20px;line-height:20px;font-family:'Liberation Serif',serif;font-size:11.6px;font-weight:normal;white-space:pre;color:#161616">At minimum serviceable voltage</div><div style="position:absolute;left:512px;top:890.6px;height:20px;line-height:20px;font-family:'Liberation Serif',serif;font-size:11.6px;font-weight:normal;white-space:pre;color:#161616">(90% of rated voltage)</div><div style="position:absolute;left:512px;top:903.2px;height:20px;line-height:20px;font-family:'Liberation Serif',serif;font-size:11.6px;font-weight:normal;white-space:pre;color:#161616">[after temperature rise and saturated]</div>
<svg width="860" height="932" style="position:absolute;left:0;top:0">
<line x1="297.0" y1="369.4" x2="330.0" y2="369.4" stroke="#383838" stroke-width="1.3"/><line x1="330.0" y1="369.4" x2="363.0" y2="369.4" stroke="#383838" stroke-width="1.3"/><line x1="363.0" y1="369.4" x2="396.0" y2="369.4" stroke="#383838" stroke-width="1.3"/><line x1="396.0" y1="369.4" x2="429.0" y2="369.4" stroke="#383838" stroke-width="1.3"/><line x1="429.0" y1="369.4" x2="462.0" y2="369.4" stroke="#383838" stroke-width="1.3"/><line x1="363.0" y1="402.20000000000005" x2="396.0" y2="402.20000000000005" stroke="#383838" stroke-width="1.3"/><line x1="396.0" y1="402.20000000000005" x2="429.0" y2="402.20000000000005" stroke="#383838" stroke-width="1.3"/><line x1="429.0" y1="402.20000000000005" x2="462.0" y2="402.20000000000005" stroke="#383838" stroke-width="1.3"/><line x1="363.0" y1="435.05" x2="396.0" y2="435.05" stroke="#383838" stroke-width="1.3"/><line x1="396.0" y1="435.05" x2="429.0" y2="435.05" stroke="#383838" stroke-width="1.3"/><line x1="429.0" y1="435.05" x2="462.0" y2="435.05" stroke="#383838" stroke-width="1.3"/><line x1="297.0" y1="468.0" x2="330.0" y2="468.0" stroke="#383838" stroke-width="1.3"/><line x1="330.0" y1="468.0" x2="363.0" y2="468.0" stroke="#383838" stroke-width="1.3"/><line x1="363.0" y1="468.0" x2="396.0" y2="468.0" stroke="#383838" stroke-width="1.3"/><line x1="396.0" y1="468.0" x2="429.0" y2="468.0" stroke="#383838" stroke-width="1.3"/><line x1="429.0" y1="468.0" x2="462.0" y2="468.0" stroke="#383838" stroke-width="1.3"/><line x1="363.0" y1="533.75" x2="396.0" y2="533.75" stroke="#383838" stroke-width="1.3"/><line x1="396.0" y1="533.75" x2="429.0" y2="533.75" stroke="#383838" stroke-width="1.3"/><line x1="429.0" y1="533.75" x2="462.0" y2="533.75" stroke="#383838" stroke-width="1.3"/><line x1="363.0" y1="599.4" x2="396.0" y2="599.4" stroke="#383838" stroke-width="1.3"/><line x1="396.0" y1="599.4" x2="429.0" y2="599.4" stroke="#383838" stroke-width="1.3"/><line x1="429.0" y1="599.4" x2="462.0" y2="599.4" stroke="#383838" stroke-width="1.3"/><line x1="297.0" y1="664.9" x2="330.0" y2="664.9" stroke="#383838" stroke-width="1.3"/><line x1="330.0" y1="664.9" x2="363.0" y2="664.9" stroke="#383838" stroke-width="1.3"/><line x1="363.0" y1="664.9" x2="396.0" y2="664.9" stroke="#383838" stroke-width="1.3"/><line x1="396.0" y1="664.9" x2="429.0" y2="664.9" stroke="#383838" stroke-width="1.3"/><line x1="429.0" y1="664.9" x2="462.0" y2="664.9" stroke="#383838" stroke-width="1.3"/><line x1="462.0" y1="336.5" x2="494.8" y2="336.5" stroke="#383838" stroke-width="1.3"/><line x1="494.8" y1="336.5" x2="527.6" y2="336.5" stroke="#383838" stroke-width="1.3"/><line x1="527.6" y1="336.5" x2="560.4" y2="336.5" stroke="#383838" stroke-width="1.3"/><line x1="560.4" y1="336.5" x2="593.2" y2="336.5" stroke="#383838" stroke-width="1.3"/><line x1="593.2" y1="336.5" x2="626.0" y2="336.5" stroke="#383838" stroke-width="1.3"/><line x1="462.0" y1="369.4" x2="494.8" y2="369.4" stroke="#383838" stroke-width="1.3"/><line x1="494.8" y1="369.4" x2="527.6" y2="369.4" stroke="#383838" stroke-width="1.3"/><line x1="527.6" y1="369.4" x2="560.4" y2="369.4" stroke="#383838" stroke-width="1.3"/><line x1="560.4" y1="369.4" x2="593.2" y2="369.4" stroke="#383838" stroke-width="1.3"/><line x1="593.2" y1="369.4" x2="626.0" y2="369.4" stroke="#383838" stroke-width="1.3"/><line x1="462.0" y1="402.20000000000005" x2="494.8" y2="402.20000000000005" stroke="#383838" stroke-width="1.3"/><line x1="494.8" y1="402.20000000000005" x2="527.6" y2="402.20000000000005" stroke="#383838" stroke-width="1.3"/><line x1="527.6" y1="402.20000000000005" x2="560.4" y2="402.20000000000005" stroke="#383838" stroke-width="1.3"/><line x1="560.4" y1="402.20000000000005" x2="593.2" y2="402.20000000000005" stroke="#383838" stroke-width="1.3"/><line x1="593.2" y1="402.20000000000005" x2="626.0" y2="402.20000000000005" stroke="#383838" stroke-width="1.3"/><line x1="462.0" y1="435.05" x2="494.8" y2="435.05" stroke="#383838" stroke-width="1.3"/><line x1="494.8" y1="435.05" x2="527.6" y2="435.05" stroke="#383838" stroke-width="1.3"/><line x1="527.6" y1="435.05" x2="560.4" y2="435.05" stroke="#383838" stroke-width="1.3"/><line x1="560.4" y1="435.05" x2="593.2" y2="435.05" stroke="#383838" stroke-width="1.3"/><line x1="593.2" y1="435.05" x2="626.0" y2="435.05" stroke="#383838" stroke-width="1.3"/><line x1="462.0" y1="468.0" x2="494.8" y2="468.0" stroke="#383838" stroke-width="1.3"/><line x1="494.8" y1="468.0" x2="527.6" y2="468.0" stroke="#383838" stroke-width="1.3"/><line x1="527.6" y1="468.0" x2="560.4" y2="468.0" stroke="#383838" stroke-width="1.3"/><line x1="560.4" y1="468.0" x2="593.2" y2="468.0" stroke="#383838" stroke-width="1.3"/><line x1="593.2" y1="468.0" x2="626.0" y2="468.0" stroke="#383838" stroke-width="1.3"/><line x1="462.0" y1="533.75" x2="494.8" y2="533.75" stroke="#383838" stroke-width="1.3"/><line x1="494.8" y1="533.75" x2="527.6" y2="533.75" stroke="#383838" stroke-width="1.3"/><line x1="527.6" y1="533.75" x2="560.4" y2="533.75" stroke="#383838" stroke-width="1.3"/><line x1="560.4" y1="533.75" x2="593.2" y2="533.75" stroke="#383838" stroke-width="1.3"/><line x1="593.2" y1="533.75" x2="626.0" y2="533.75" stroke="#383838" stroke-width="1.3"/><line x1="462.0" y1="599.4" x2="494.8" y2="599.4" stroke="#383838" stroke-width="1.3"/><line x1="494.8" y1="599.4" x2="527.6" y2="599.4" stroke="#383838" stroke-width="1.3"/><line x1="527.6" y1="599.4" x2="560.4" y2="599.4" stroke="#383838" stroke-width="1.3"/><line x1="560.4" y1="599.4" x2="593.2" y2="599.4" stroke="#383838" stroke-width="1.3"/><line x1="593.2" y1="599.4" x2="626.0" y2="599.4" stroke="#383838" stroke-width="1.3"/><line x1="527.6" y1="664.9" x2="560.4" y2="664.9" stroke="#383838" stroke-width="1.3"/><line x1="560.4" y1="664.9" x2="593.2" y2="664.9" stroke="#383838" stroke-width="1.3"/><line x1="593.2" y1="664.9" x2="626.0" y2="664.9" stroke="#383838" stroke-width="1.3"/><line x1="626.0" y1="336.5" x2="658.8" y2="336.5" stroke="#383838" stroke-width="1.3"/><line x1="658.8" y1="336.5" x2="691.6" y2="336.5" stroke="#383838" stroke-width="1.3"/><line x1="691.6" y1="336.5" x2="724.4" y2="336.5" stroke="#383838" stroke-width="1.3"/><line x1="724.4" y1="336.5" x2="757.2" y2="336.5" stroke="#383838" stroke-width="1.3"/><line x1="757.2" y1="336.5" x2="790.0" y2="336.5" stroke="#383838" stroke-width="1.3"/><line x1="626.0" y1="369.4" x2="658.8" y2="369.4" stroke="#383838" stroke-width="1.3"/><line x1="658.8" y1="369.4" x2="691.6" y2="369.4" stroke="#383838" stroke-width="1.3"/><line x1="691.6" y1="369.4" x2="724.4" y2="369.4" stroke="#383838" stroke-width="1.3"/><line x1="724.4" y1="369.4" x2="757.2" y2="369.4" stroke="#383838" stroke-width="1.3"/><line x1="757.2" y1="369.4" x2="790.0" y2="369.4" stroke="#383838" stroke-width="1.3"/><line x1="626.0" y1="402.20000000000005" x2="658.8" y2="402.20000000000005" stroke="#383838" stroke-width="1.3"/><line x1="658.8" y1="402.20000000000005" x2="691.6" y2="402.20000000000005" stroke="#383838" stroke-width="1.3"/><line x1="691.6" y1="402.20000000000005" x2="724.4" y2="402.20000000000005" stroke="#383838" stroke-width="1.3"/><line x1="724.4" y1="402.20000000000005" x2="757.2" y2="402.20000000000005" stroke="#383838" stroke-width="1.3"/><line x1="757.2" y1="402.20000000000005" x2="790.0" y2="402.20000000000005" stroke="#383838" stroke-width="1.3"/><line x1="626.0" y1="435.05" x2="658.8" y2="435.05" stroke="#383838" stroke-width="1.3"/><line x1="658.8" y1="435.05" x2="691.6" y2="435.05" stroke="#383838" stroke-width="1.3"/><line x1="691.6" y1="435.05" x2="724.4" y2="435.05" stroke="#383838" stroke-width="1.3"/><line x1="724.4" y1="435.05" x2="757.2" y2="435.05" stroke="#383838" stroke-width="1.3"/><line x1="757.2" y1="435.05" x2="790.0" y2="435.05" stroke="#383838" stroke-width="1.3"/><line x1="626.0" y1="468.0" x2="658.8" y2="468.0" stroke="#383838" stroke-width="1.3"/><line x1="658.8" y1="468.0" x2="691.6" y2="468.0" stroke="#383838" stroke-width="1.3"/><line x1="691.6" y1="468.0" x2="724.4" y2="468.0" stroke="#383838" stroke-width="1.3"/><line x1="724.4" y1="468.0" x2="757.2" y2="468.0" stroke="#383838" stroke-width="1.3"/><line x1="757.2" y1="468.0" x2="790.0" y2="468.0" stroke="#383838" stroke-width="1.3"/><line x1="626.0" y1="533.75" x2="658.8" y2="533.75" stroke="#383838" stroke-width="1.3"/><line x1="658.8" y1="533.75" x2="691.6" y2="533.75" stroke="#383838" stroke-width="1.3"/><line x1="691.6" y1="533.75" x2="724.4" y2="533.75" stroke="#383838" stroke-width="1.3"/><line x1="724.4" y1="533.75" x2="757.2" y2="533.75" stroke="#383838" stroke-width="1.3"/><line x1="757.2" y1="533.75" x2="790.0" y2="533.75" stroke="#383838" stroke-width="1.3"/><line x1="626.0" y1="566.55" x2="658.8" y2="566.55" stroke="#383838" stroke-width="1.3"/><line x1="658.8" y1="566.55" x2="691.6" y2="566.55" stroke="#383838" stroke-width="1.3"/><line x1="691.6" y1="566.55" x2="724.4" y2="566.55" stroke="#383838" stroke-width="1.3"/><line x1="724.4" y1="566.55" x2="757.2" y2="566.55" stroke="#383838" stroke-width="1.3"/><line x1="757.2" y1="566.55" x2="790.0" y2="566.55" stroke="#383838" stroke-width="1.3"/><line x1="626.0" y1="599.4" x2="658.8" y2="599.4" stroke="#383838" stroke-width="1.3"/><line x1="658.8" y1="599.4" x2="691.6" y2="599.4" stroke="#383838" stroke-width="1.3"/><line x1="691.6" y1="599.4" x2="724.4" y2="599.4" stroke="#383838" stroke-width="1.3"/><line x1="724.4" y1="599.4" x2="757.2" y2="599.4" stroke="#383838" stroke-width="1.3"/><line x1="757.2" y1="599.4" x2="790.0" y2="599.4" stroke="#383838" stroke-width="1.3"/><line x1="658.8" y1="664.9" x2="691.6" y2="664.9" stroke="#383838" stroke-width="1.3"/><line x1="691.6" y1="664.9" x2="724.4" y2="664.9" stroke="#383838" stroke-width="1.3"/><line x1="724.4" y1="664.9" x2="757.2" y2="664.9" stroke="#383838" stroke-width="1.3"/><line x1="757.2" y1="664.9" x2="790.0" y2="664.9" stroke="#383838" stroke-width="1.3"/><line x1="626.0" y1="730.6" x2="658.8" y2="730.6" stroke="#383838" stroke-width="1.3"/><line x1="658.8" y1="730.6" x2="691.6" y2="730.6" stroke="#383838" stroke-width="1.3"/><line x1="691.6" y1="730.6" x2="724.4" y2="730.6" stroke="#383838" stroke-width="1.3"/><line x1="724.4" y1="730.6" x2="757.2" y2="730.6" stroke="#383838" stroke-width="1.3"/><line x1="757.2" y1="730.6" x2="790.0" y2="730.6" stroke="#383838" stroke-width="1.3"/><line x1="626.0" y1="763.5" x2="658.8" y2="763.5" stroke="#383838" stroke-width="1.3"/><line x1="658.8" y1="763.5" x2="691.6" y2="763.5" stroke="#383838" stroke-width="1.3"/><line x1="691.6" y1="763.5" x2="724.4" y2="763.5" stroke="#383838" stroke-width="1.3"/><line x1="724.4" y1="763.5" x2="757.2" y2="763.5" stroke="#383838" stroke-width="1.3"/><line x1="757.2" y1="763.5" x2="790.0" y2="763.5" stroke="#383838" stroke-width="1.3"/><line x1="626.0" y1="796.25" x2="658.8" y2="796.25" stroke="#383838" stroke-width="1.3"/><line x1="658.8" y1="796.25" x2="691.6" y2="796.25" stroke="#383838" stroke-width="1.3"/><line x1="691.6" y1="796.25" x2="724.4" y2="796.25" stroke="#383838" stroke-width="1.3"/><line x1="724.4" y1="796.25" x2="757.2" y2="796.25" stroke="#383838" stroke-width="1.3"/><line x1="757.2" y1="796.25" x2="790.0" y2="796.25" stroke="#383838" stroke-width="1.3"/><line x1="76" y1="131.1" x2="790" y2="131.1" stroke="#151515" stroke-width="2.2"/><line x1="76" y1="320" x2="790" y2="320" stroke="#151515" stroke-width="2"/><line x1="76" y1="615.8" x2="790" y2="615.8" stroke="#151515" stroke-width="2"/><line x1="108.6" y1="714" x2="790" y2="714" stroke="#151515" stroke-width="2.1"/><line x1="76" y1="812.7" x2="790" y2="812.7" stroke="#151515" stroke-width="2.2"/><line x1="297" y1="131.1" x2="297" y2="812.7" stroke="#151515" stroke-width="2.2"/><line x1="462" y1="152" x2="462" y2="812.7" stroke="#151515" stroke-width="2.2"/><line x1="626" y1="152" x2="626" y2="812.7" stroke="#151515" stroke-width="2.2"/><line x1="108.6" y1="131.1" x2="108.6" y2="812.7" stroke="#383838" stroke-width="1.3"/><line x1="141.5" y1="131.1" x2="141.5" y2="812.7" stroke="#383838" stroke-width="1.3"/><line x1="223.5" y1="131.1" x2="223.5" y2="812.7" stroke="#383838" stroke-width="1.3"/><line x1="297" y1="152" x2="790" y2="152" stroke="#383838" stroke-width="1.3"/><line x1="297" y1="201" x2="790" y2="201" stroke="#383838" stroke-width="1.3"/><line x1="297" y1="262.5" x2="790" y2="262.5" stroke="#383838" stroke-width="1.3"/><line x1="297" y1="291" x2="790" y2="291" stroke="#383838" stroke-width="1.3"/><line x1="330.0" y1="291" x2="330.0" y2="812.7" stroke="#383838" stroke-width="1.3"/><line x1="363.0" y1="291" x2="363.0" y2="812.7" stroke="#383838" stroke-width="1.3"/><line x1="396.0" y1="291" x2="396.0" y2="812.7" stroke="#383838" stroke-width="1.3"/><line x1="429.0" y1="291" x2="429.0" y2="812.7" stroke="#383838" stroke-width="1.3"/><line x1="494.8" y1="291" x2="494.8" y2="812.7" stroke="#383838" stroke-width="1.3"/><line x1="527.6" y1="291" x2="527.6" y2="812.7" stroke="#383838" stroke-width="1.3"/><line x1="560.4" y1="291" x2="560.4" y2="812.7" stroke="#383838" stroke-width="1.3"/><line x1="593.2" y1="291" x2="593.2" y2="812.7" stroke="#383838" stroke-width="1.3"/><line x1="658.8" y1="291" x2="658.8" y2="812.7" stroke="#383838" stroke-width="1.3"/><line x1="691.6" y1="291" x2="691.6" y2="812.7" stroke="#383838" stroke-width="1.3"/><line x1="724.4" y1="291" x2="724.4" y2="812.7" stroke="#383838" stroke-width="1.3"/><line x1="757.2" y1="291" x2="757.2" y2="812.7" stroke="#383838" stroke-width="1.3"/><line x1="141.5" y1="353" x2="790" y2="353" stroke="#383838" stroke-width="1.3"/><line x1="141.5" y1="385.8" x2="790" y2="385.8" stroke="#383838" stroke-width="1.3"/><line x1="141.5" y1="418.6" x2="790" y2="418.6" stroke="#383838" stroke-width="1.3"/><line x1="141.5" y1="451.5" x2="790" y2="451.5" stroke="#383838" stroke-width="1.3"/><line x1="141.5" y1="484.5" x2="790" y2="484.5" stroke="#383838" stroke-width="1.3"/><line x1="141.5" y1="517.4" x2="790" y2="517.4" stroke="#383838" stroke-width="1.3"/><line x1="141.5" y1="550.1" x2="790" y2="550.1" stroke="#383838" stroke-width="1.3"/><line x1="141.5" y1="583" x2="790" y2="583" stroke="#383838" stroke-width="1.3"/><line x1="141.5" y1="747.2" x2="790" y2="747.2" stroke="#383838" stroke-width="1.3"/><line x1="141.5" y1="779.8" x2="790" y2="779.8" stroke="#383838" stroke-width="1.3"/>
<line x1="333" y1="174.4" x2="350.65856280443023" y2="169.5840283260645" stroke="#222" stroke-width="1.1"/><polygon points="355,168.4 351.13217413485603,171.3206032042924 350.18495147400444,167.84745344783659" fill="#222"/><line x1="333" y1="176.2" x2="350.6791211652839" y2="181.3430170662644" stroke="#222" stroke-width="1.1"/><polygon points="355,182.6 350.17632799178966,183.07136860015083 351.18191433877814,179.61466553237796" fill="#222"/><line x1="368" y1="168.4" x2="386.0" y2="168.4" stroke="#222" stroke-width="1.1"/><polygon points="390.5,168.4 386.0,170.20000000000002 386.0,166.6" fill="#222"/><line x1="368" y1="183" x2="386.0" y2="183.0" stroke="#222" stroke-width="1.1"/><polygon points="390.5,183 386.0,184.8 386.0,181.2" fill="#222"/><line x1="404" y1="168.7" x2="422.65037734377455" y2="173.6464044259576" stroke="#222" stroke-width="1.1"/><polygon points="427,174.8 422.18893911415756,175.38625348844778 423.11181557339154,171.90655536346742" fill="#222"/><line x1="404" y1="182.6" x2="422.655094087605" y2="177.57123550681953" stroke="#222" stroke-width="1.1"/><polygon points="427,176.4 423.1235882903328,179.30919787177754 422.1865998848772,175.83327314186153" fill="#222"/><line x1="530.7" y1="166.6" x2="548.5" y2="166.6" stroke="#222" stroke-width="1.1"/><polygon points="553,166.6 548.5,168.4 548.5,164.79999999999998" fill="#222"/><line x1="695.5" y1="166.6" x2="713.5" y2="166.6" stroke="#222" stroke-width="1.1"/><polygon points="718,166.6 713.5,168.4 713.5,164.79999999999998" fill="#222"/><path d="M356.2 206.7 H392.8 V221.5 H356.2 Z" fill="none" stroke="#333" stroke-width="1.1"/><path d="M374.3 206.7 V221.5 M374.3 214 H402" fill="none" stroke="#333" stroke-width="1.1"/><path d="M361.4 221.5 V225.4 H370.1 V235.7 M388.6 221.5 V225.4 H379.2 V235.7" fill="none" stroke="#333" stroke-width="1.1"/><path d="M365.6 232.6 H383.7 V247.2 H365.6 Z" fill="none" stroke="#333" stroke-width="1.1"/><path d="M370.1 244.4 V251.4 M379.2 244.4 V256.3 M374.7 253.2 V256.5 H383.7 V253.2" fill="none" stroke="#333" stroke-width="1.1"/><text x="357.8" y="233.8" font-family="Liberation Sans" font-size="7" fill="#333">A</text><text x="386.2" y="233.8" font-family="Liberation Sans" font-size="7" fill="#333">B</text><text x="358.8" y="252.7" font-family="Liberation Sans" font-size="7" fill="#333">P</text><text x="386" y="252.7" font-family="Liberation Sans" font-size="7" fill="#333">T</text><path d="M539.3 227.3 H557.5 V242.3 H539.3 Z" fill="none" stroke="#333" stroke-width="1.1"/><path d="M543.4 231.2 V211.6 H524.3 V223.1 M519.8 219.3 V223.1 H529.2 V219.3" fill="none" stroke="#333" stroke-width="1.1"/><path d="M549 223.3 H556 M552.2 223.3 V231.2" fill="none" stroke="#333" stroke-width="1.1"/><path d="M543.4 239.2 V246.9 M552.2 239.2 V250.4 M547.3 246.9 V250.4 H556.4 V246.9" fill="none" stroke="#333" stroke-width="1.1"/><text x="531.6" y="226.2" font-family="Liberation Sans" font-size="7" fill="#333">A</text><text x="560.6" y="226.2" font-family="Liberation Sans" font-size="7" fill="#333">B</text><text x="531.6" y="247.4" font-family="Liberation Sans" font-size="7" fill="#333">P</text><text x="560.6" y="247.4" font-family="Liberation Sans" font-size="7" fill="#333">T</text><path d="M694.3 225.4 H712.4 V240.4 H694.3 Z" fill="none" stroke="#333" stroke-width="1.1"/><path d="M695.4 221.2 H702 M698.5 221.2 V229.1" fill="none" stroke="#333" stroke-width="1.1"/><path d="M707.6 229.1 V213.7 H725.7 V224.9 M720.5 221.4 V224.9 H729.5 V221.4" fill="none" stroke="#333" stroke-width="1.1"/><path d="M698.5 236.8 V245.1 M707.6 236.8 V248.6 M703 245.1 V248.6 H712.4 V245.1" fill="none" stroke="#333" stroke-width="1.1"/><text x="689" y="224" font-family="Liberation Sans" font-size="7" fill="#333">A</text><text x="712.8" y="224" font-family="Liberation Sans" font-size="7" fill="#333">B</text><text x="690.8" y="247.2" font-family="Liberation Sans" font-size="7" fill="#333">P</text><text x="713" y="247.2" font-family="Liberation Sans" font-size="7" fill="#333">T</text><rect x="170.4" y="335.50" width="3.9" height="1.7" fill="#1a1a1a"/><rect x="187.5" y="335.50" width="3.9" height="1.7" fill="#1a1a1a"/><rect x="170.4" y="368.40" width="3.9" height="1.7" fill="#1a1a1a"/><rect x="187.5" y="368.40" width="3.9" height="1.7" fill="#1a1a1a"/><rect x="170.4" y="401.20" width="3.9" height="1.7" fill="#1a1a1a"/><rect x="187.5" y="401.20" width="3.9" height="1.7" fill="#1a1a1a"/><rect x="170.4" y="434.05" width="3.9" height="1.7" fill="#1a1a1a"/><rect x="187.5" y="434.05" width="3.9" height="1.7" fill="#1a1a1a"/><rect x="170.4" y="467.00" width="3.9" height="1.7" fill="#1a1a1a"/><rect x="187.5" y="467.00" width="3.9" height="1.7" fill="#1a1a1a"/><rect x="170.4" y="499.95" width="3.9" height="1.7" fill="#1a1a1a"/><rect x="187.5" y="499.95" width="3.9" height="1.7" fill="#1a1a1a"/><rect x="170.4" y="532.75" width="3.9" height="1.7" fill="#1a1a1a"/><rect x="187.5" y="532.75" width="3.9" height="1.7" fill="#1a1a1a"/><rect x="170.4" y="565.55" width="3.9" height="1.7" fill="#1a1a1a"/><rect x="187.5" y="565.55" width="3.9" height="1.7" fill="#1a1a1a"/><rect x="170.4" y="598.40" width="3.9" height="1.7" fill="#1a1a1a"/><rect x="187.5" y="598.40" width="3.9" height="1.7" fill="#1a1a1a"/><rect x="170.4" y="663.90" width="3.9" height="1.7" fill="#1a1a1a"/><rect x="187.5" y="663.90" width="3.9" height="1.7" fill="#1a1a1a"/><rect x="170.4" y="729.60" width="3.9" height="1.7" fill="#1a1a1a"/><rect x="187.5" y="729.60" width="3.9" height="1.7" fill="#1a1a1a"/><rect x="170.4" y="762.50" width="3.9" height="1.7" fill="#1a1a1a"/><rect x="187.5" y="762.50" width="3.9" height="1.7" fill="#1a1a1a"/><rect x="170.4" y="795.25" width="3.9" height="1.7" fill="#1a1a1a"/><rect x="187.5" y="795.25" width="3.9" height="1.7" fill="#1a1a1a"/><polygon points="216.40,454.40 217.13,456.39 219.25,456.47 217.59,457.79 218.16,459.83 216.40,458.65 214.64,459.83 215.21,457.79 213.55,456.47 215.67,456.39" fill="#00a8e8"/><polygon points="216,519.2 219.8,523 216,526.8 212.2,523" fill="#00a8e8"/><polygon points="216,550.7 219.8,554.5 216,558.3 212.2,554.5" fill="#00a8e8"/><polygon points="216,584.2 219.8,588 216,591.8 212.2,588" fill="#00a8e8"/><path d="M393.4 871.3 H483.7 V904.3 H393.4 Z M438.3 871.3 V904.3 M438.3 887.7 H483.7" fill="none" stroke="#333" stroke-width="1.2"/><line x1="310.6" y1="887.8" x2="401.0" y2="887.8" stroke="#222" stroke-width="1.0"/><polygon points="407,887.8 401.0,889.9 401.0,885.6999999999999" fill="#222"/><line x1="508.7" y1="862.8" x2="480.6985000335725" y2="876.3815658519799" stroke="#222" stroke-width="1.0"/><polygon points="475.3,879 479.7820480817654,874.4920908402295 481.61495198537955,878.2710408637303" fill="#222"/><line x1="508.7" y1="900.3" x2="481.2552985683339" y2="896.9310396446159" stroke="#222" stroke-width="1.0"/><polygon points="475.3,896.2 481.51116244394944,894.846685145699 480.99943469271835,899.0153941435328" fill="#222"/>
<g transform="translate(244.4,331.2)" fill="none" stroke="#222" stroke-width="0.95"><path d="M-12.5 -6.2 V-0.8 M-12.5 -5.8 H0.0 M-12.5 -1.8 H0.0 M0.0 -6.2 V-0.8" stroke-width="0.8"/><path d="M-12.5 5.8 H0.0 V11.5 H-12.5 Z"/><path d="M-10.5 11.5 L-0.3 0.4"/><path d="M-7.5 5.4 L-5.9 0.6 L-4.300000000000001 5.4 L-2.6999999999999993 0.6 L-1.0999999999999996 5.4"/><path d="M30.7 -6.2 V-0.8 M30.7 -5.8 H43.0 M30.7 -1.8 H43.0 M43.0 -6.2 V-0.8" stroke-width="0.8"/><path d="M30.7 5.8 H43.0 V11.5 H30.7 Z"/><path d="M31.0 0.4 L41.0 11.5"/><path d="M31.8 5.4 L33.4 0.6 L35.0 5.4 L36.6 0.6 L38.2 5.4"/><path d="M0 0 H30.7 V11.5 H0 Z M10.23 0 V11.5 M20.47 0 V11.5"/><path d="M2.0 10.9 V1.8 M7.0 0.8 V9.7"/><polygon points="1.0,2.8 3.0,2.8 2.0,0.6" fill="#222" stroke="none"/><polygon points="6.0,8.7 8.0,8.7 7.0,11.1" fill="#222" stroke="none"/><path d="M12.433333333333334 0 V2.6 M11.133333333333333 2.6 H13.733333333333334 M17.633333333333333 0 V2.6 M16.333333333333332 2.6 H18.933333333333334 M12.433333333333334 11.5 V8.9 M11.133333333333333 8.9 H13.733333333333334 M17.633333333333333 11.5 V8.9 M16.333333333333332 8.9 H18.933333333333334"/><path d="M21.766666666666666 0.8 L29.396666666666665 10.7 M29.396666666666665 0.8 L21.766666666666666 10.7"/></g><text x="254.6" y="328.8" font-family="Liberation Sans" font-size="7" fill="#1e1e1e">A B</text><text x="255.0" y="350.0" font-family="Liberation Sans" font-size="7" fill="#1e1e1e">P T</text><text x="228.8" y="335.8" font-family="Liberation Sans" font-size="6" fill="#1e1e1e">a</text><text x="286.9" y="335.8" font-family="Liberation Sans" font-size="6" fill="#1e1e1e">b</text><g transform="translate(244.4,364.2)" fill="none" stroke="#222" stroke-width="0.95"><path d="M-12.5 -6.2 V-0.8 M-12.5 -5.8 H0.0 M-12.5 -1.8 H0.0 M0.0 -6.2 V-0.8" stroke-width="0.8"/><path d="M-12.5 5.8 H0.0 V11.5 H-12.5 Z"/><path d="M-10.5 11.5 L-0.3 0.4"/><path d="M-7.5 5.4 L-5.9 0.6 L-4.300000000000001 5.4 L-2.6999999999999993 0.6 L-1.0999999999999996 5.4"/><path d="M30.7 -6.2 V-0.8 M30.7 -5.8 H43.0 M30.7 -1.8 H43.0 M43.0 -6.2 V-0.8" stroke-width="0.8"/><path d="M30.7 5.8 H43.0 V11.5 H30.7 Z"/><path d="M31.0 0.4 L41.0 11.5"/><path d="M31.8 5.4 L33.4 0.6 L35.0 5.4 L36.6 0.6 L38.2 5.4"/><path d="M0 0 H30.7 V11.5 H0 Z M10.23 0 V11.5 M20.47 0 V11.5"/><path d="M2.0 10.9 V1.8 M7.0 0.8 V9.7"/><polygon points="1.0,2.8 3.0,2.8 2.0,0.6" fill="#222" stroke="none"/><polygon points="6.0,8.7 8.0,8.7 7.0,11.1" fill="#222" stroke="none"/><path d="M12.433333333333334 0 V11.5 M17.633333333333333 0 V11.5 M12.433333333333334 5.75 H17.633333333333333"/><path d="M21.766666666666666 0.8 L29.396666666666665 10.7 M29.396666666666665 0.8 L21.766666666666666 10.7"/></g><text x="254.6" y="361.8" font-family="Liberation Sans" font-size="7" fill="#1e1e1e">A B</text><text x="255.0" y="383.0" font-family="Liberation Sans" font-size="7" fill="#1e1e1e">P T</text><text x="228.8" y="368.8" font-family="Liberation Sans" font-size="6" fill="#1e1e1e">a</text><text x="286.9" y="368.8" font-family="Liberation Sans" font-size="6" fill="#1e1e1e">b</text><g transform="translate(244.4,397.0)" fill="none" stroke="#222" stroke-width="0.95"><path d="M-12.5 -6.2 V-0.8 M-12.5 -5.8 H0.0 M-12.5 -1.8 H0.0 M0.0 -6.2 V-0.8" stroke-width="0.8"/><path d="M-12.5 5.8 H0.0 V11.5 H-12.5 Z"/><path d="M-10.5 11.5 L-0.3 0.4"/><path d="M-7.5 5.4 L-5.9 0.6 L-4.300000000000001 5.4 L-2.6999999999999993 0.6 L-1.0999999999999996 5.4"/><path d="M30.7 -6.2 V-0.8 M30.7 -5.8 H43.0 M30.7 -1.8 H43.0 M43.0 -6.2 V-0.8" stroke-width="0.8"/><path d="M30.7 5.8 H43.0 V11.5 H30.7 Z"/><path d="M31.0 0.4 L41.0 11.5"/><path d="M31.8 5.4 L33.4 0.6 L35.0 5.4 L36.6 0.6 L38.2 5.4"/><path d="M0 0 H30.7 V11.5 H0 Z M10.23 0 V11.5 M20.47 0 V11.5"/><path d="M2.0 10.9 V1.8 M7.0 0.8 V9.7"/><polygon points="1.0,2.8 3.0,2.8 2.0,0.6" fill="#222" stroke="none"/><polygon points="6.0,8.7 8.0,8.7 7.0,11.1" fill="#222" stroke="none"/><path d="M12.433333333333334 0 V5.75 H17.633333333333333 M17.633333333333333 0 V11.5 M12.433333333333334 11.5 V8.5 M11.133333333333333 8.5 H13.733333333333334"/><path d="M21.766666666666666 0.8 L29.396666666666665 10.7 M29.396666666666665 0.8 L21.766666666666666 10.7"/></g><text x="254.6" y="394.6" font-family="Liberation Sans" font-size="7" fill="#1e1e1e">A B</text><text x="255.0" y="415.8" font-family="Liberation Sans" font-size="7" fill="#1e1e1e">P T</text><text x="228.8" y="401.6" font-family="Liberation Sans" font-size="6" fill="#1e1e1e">a</text><text x="286.9" y="401.6" font-family="Liberation Sans" font-size="6" fill="#1e1e1e">b</text><g transform="translate(244.4,429.8)" fill="none" stroke="#222" stroke-width="0.95"><path d="M-12.5 -6.2 V-0.8 M-12.5 -5.8 H0.0 M-12.5 -1.8 H0.0 M0.0 -6.2 V-0.8" stroke-width="0.8"/><path d="M-12.5 5.8 H0.0 V11.5 H-12.5 Z"/><path d="M-10.5 11.5 L-0.3 0.4"/><path d="M-7.5 5.4 L-5.9 0.6 L-4.300000000000001 5.4 L-2.6999999999999993 0.6 L-1.0999999999999996 5.4"/><path d="M30.7 -6.2 V-0.8 M30.7 -5.8 H43.0 M30.7 -1.8 H43.0 M43.0 -6.2 V-0.8" stroke-width="0.8"/><path d="M30.7 5.8 H43.0 V11.5 H30.7 Z"/><path d="M31.0 0.4 L41.0 11.5"/><path d="M31.8 5.4 L33.4 0.6 L35.0 5.4 L36.6 0.6 L38.2 5.4"/><path d="M0 0 H30.7 V11.5 H0 Z M10.23 0 V11.5 M20.47 0 V11.5"/><path d="M2.0 10.9 V1.8 M7.0 0.8 V9.7"/><polygon points="1.0,2.8 3.0,2.8 2.0,0.6" fill="#222" stroke="none"/><polygon points="6.0,8.7 8.0,8.7 7.0,11.1" fill="#222" stroke="none"/><path d="M12.433333333333334 0 V11.5 M17.633333333333333 0 V11.5 M12.433333333333334 3.5 H17.633333333333333 M11.233333333333334 8.5 H18.833333333333332"/><path d="M21.766666666666666 0.8 L29.396666666666665 10.7 M29.396666666666665 0.8 L21.766666666666666 10.7"/></g><text x="254.6" y="427.40000000000003" font-family="Liberation Sans" font-size="7" fill="#1e1e1e">A B</text><text x="255.0" y="448.6" font-family="Liberation Sans" font-size="7" fill="#1e1e1e">P T</text><text x="228.8" y="434.40000000000003" font-family="Liberation Sans" font-size="6" fill="#1e1e1e">a</text><text x="286.9" y="434.40000000000003" font-family="Liberation Sans" font-size="6" fill="#1e1e1e">b</text><g transform="translate(244.4,462.7)" fill="none" stroke="#222" stroke-width="0.95"><path d="M-12.5 -6.2 V-0.8 M-12.5 -5.8 H0.0 M-12.5 -1.8 H0.0 M0.0 -6.2 V-0.8" stroke-width="0.8"/><path d="M-12.5 5.8 H0.0 V11.5 H-12.5 Z"/><path d="M-10.5 11.5 L-0.3 0.4"/><path d="M-7.5 5.4 L-5.9 0.6 L-4.300000000000001 5.4 L-2.6999999999999993 0.6 L-1.0999999999999996 5.4"/><path d="M30.7 -6.2 V-0.8 M30.7 -5.8 H43.0 M30.7 -1.8 H43.0 M43.0 -6.2 V-0.8" stroke-width="0.8"/><path d="M30.7 5.8 H43.0 V11.5 H30.7 Z"/><path d="M31.0 0.4 L41.0 11.5"/><path d="M31.8 5.4 L33.4 0.6 L35.0 5.4 L36.6 0.6 L38.2 5.4"/><path d="M0 0 H30.7 V11.5 H0 Z M10.23 0 V11.5 M20.47 0 V11.5"/><path d="M1.3 0.8 L8.93 10.7 M8.93 0.8 L1.3 10.7"/><path d="M12.433333333333334 0 V2.6 M11.133333333333333 2.6 H13.733333333333334 M17.633333333333333 0 V2.6 M16.333333333333332 2.6 H18.933333333333334 M12.433333333333334 11.5 V5.5 H17.633333333333333 V11.5"/><path d="M27.466666666666665 10.9 V1.8 M22.466666666666665 0.8 V9.7"/><polygon points="26.466666666666665,2.8 28.466666666666665,2.8 27.466666666666665,0.6" fill="#222" stroke="none"/><polygon points="21.466666666666665,8.7 23.466666666666665,8.7 22.466666666666665,11.1" fill="#222" stroke="none"/></g><text x="254.6" y="460.3" font-family="Liberation Sans" font-size="7" fill="#1e1e1e">A B</text><text x="255.0" y="481.5" font-family="Liberation Sans" font-size="7" fill="#1e1e1e">P T</text><text x="228.8" y="467.3" font-family="Liberation Sans" font-size="6" fill="#1e1e1e">a</text><text x="286.9" y="467.3" font-family="Liberation Sans" font-size="6" fill="#1e1e1e">b</text><g transform="translate(244.4,495.7)" fill="none" stroke="#222" stroke-width="0.95"><path d="M-12.5 -6.2 V-0.8 M-12.5 -5.8 H0.0 M-12.5 -1.8 H0.0 M0.0 -6.2 V-0.8" stroke-width="0.8"/><path d="M-12.5 5.8 H0.0 V11.5 H-12.5 Z"/><path d="M-10.5 11.5 L-0.3 0.4"/><path d="M-7.5 5.4 L-5.9 0.6 L-4.300000000000001 5.4 L-2.6999999999999993 0.6 L-1.0999999999999996 5.4"/><path d="M30.7 -6.2 V-0.8 M30.7 -5.8 H43.0 M30.7 -1.8 H43.0 M43.0 -6.2 V-0.8" stroke-width="0.8"/><path d="M30.7 5.8 H43.0 V11.5 H30.7 Z"/><path d="M31.0 0.4 L41.0 11.5"/><path d="M31.8 5.4 L33.4 0.6 L35.0 5.4 L36.6 0.6 L38.2 5.4"/><path d="M0 0 H30.7 V11.5 H0 Z M10.23 0 V11.5 M20.47 0 V11.5"/><path d="M2.0 10.9 V1.8 M7.0 0.8 V9.7"/><polygon points="1.0,2.8 3.0,2.8 2.0,0.6" fill="#222" stroke="none"/><polygon points="6.0,8.7 8.0,8.7 7.0,11.1" fill="#222" stroke="none"/><path d="M12.433333333333334 0 V2.6 M11.133333333333333 2.6 H13.733333333333334 M17.633333333333333 0 V11.5 M12.433333333333334 11.5 V8.9 M11.133333333333333 8.9 H13.733333333333334"/><path d="M21.766666666666666 0.8 L29.396666666666665 10.7 M29.396666666666665 0.8 L21.766666666666666 10.7"/></g><text x="254.6" y="493.3" font-family="Liberation Sans" font-size="7" fill="#1e1e1e">A B</text><text x="255.0" y="514.5" font-family="Liberation Sans" font-size="7" fill="#1e1e1e">P T</text><text x="228.8" y="500.3" font-family="Liberation Sans" font-size="6" fill="#1e1e1e">a</text><text x="286.9" y="500.3" font-family="Liberation Sans" font-size="6" fill="#1e1e1e">b</text><g transform="translate(244.4,528.6)" fill="none" stroke="#222" stroke-width="0.95"><path d="M-12.5 -6.2 V-0.8 M-12.5 -5.8 H0.0 M-12.5 -1.8 H0.0 M0.0 -6.2 V-0.8" stroke-width="0.8"/><path d="M-12.5 5.8 H0.0 V11.5 H-12.5 Z"/><path d="M-10.5 11.5 L-0.3 0.4"/><path d="M-7.5 5.4 L-5.9 0.6 L-4.300000000000001 5.4 L-2.6999999999999993 0.6 L-1.0999999999999996 5.4"/><path d="M30.7 -6.2 V-0.8 M30.7 -5.8 H43.0 M30.7 -1.8 H43.0 M43.0 -6.2 V-0.8" stroke-width="0.8"/><path d="M30.7 5.8 H43.0 V11.5 H30.7 Z"/><path d="M31.0 0.4 L41.0 11.5"/><path d="M31.8 5.4 L33.4 0.6 L35.0 5.4 L36.6 0.6 L38.2 5.4"/><path d="M0 0 H30.7 V11.5 H0 Z M10.23 0 V11.5 M20.47 0 V11.5"/><path d="M2.0 10.9 V1.8 M7.0 0.8 V9.7"/><polygon points="1.0,2.8 3.0,2.8 2.0,0.6" fill="#222" stroke="none"/><polygon points="6.0,8.7 8.0,8.7 7.0,11.1" fill="#222" stroke="none"/><path d="M12.433333333333334 0 V2.6 M11.133333333333333 2.6 H13.733333333333334 M17.633333333333333 0 V2.6 M16.333333333333332 2.6 H18.933333333333334 M12.433333333333334 11.5 V8.9 M11.133333333333333 8.9 H13.733333333333334 M17.633333333333333 11.5 V8.9 M16.333333333333332 8.9 H18.933333333333334"/><path d="M21.766666666666666 0.8 L29.396666666666665 10.7 M29.396666666666665 0.8 L21.766666666666666 10.7"/></g><text x="254.6" y="526.2" font-family="Liberation Sans" font-size="7" fill="#1e1e1e">A B</text><text x="255.0" y="547.4" font-family="Liberation Sans" font-size="7" fill="#1e1e1e">P T</text><text x="228.8" y="533.2" font-family="Liberation Sans" font-size="6" fill="#1e1e1e">a</text><text x="286.9" y="533.2" font-family="Liberation Sans" font-size="6" fill="#1e1e1e">b</text><g transform="translate(244.4,561.3000000000001)" fill="none" stroke="#222" stroke-width="0.95"><path d="M-12.5 -6.2 V-0.8 M-12.5 -5.8 H0.0 M-12.5 -1.8 H0.0 M0.0 -6.2 V-0.8" stroke-width="0.8"/><path d="M-12.5 5.8 H0.0 V11.5 H-12.5 Z"/><path d="M-10.5 11.5 L-0.3 0.4"/><path d="M-7.5 5.4 L-5.9 0.6 L-4.300000000000001 5.4 L-2.6999999999999993 0.6 L-1.0999999999999996 5.4"/><path d="M30.7 -6.2 V-0.8 M30.7 -5.8 H43.0 M30.7 -1.8 H43.0 M43.0 -6.2 V-0.8" stroke-width="0.8"/><path d="M30.7 5.8 H43.0 V11.5 H30.7 Z"/><path d="M31.0 0.4 L41.0 11.5"/><path d="M31.8 5.4 L33.4 0.6 L35.0 5.4 L36.6 0.6 L38.2 5.4"/><path d="M0 0 H30.7 V11.5 H0 Z M10.23 0 V11.5 M20.47 0 V11.5"/><path d="M2.0 10.9 V1.8 M7.0 0.8 V9.7"/><polygon points="1.0,2.8 3.0,2.8 2.0,0.6" fill="#222" stroke="none"/><polygon points="6.0,8.7 8.0,8.7 7.0,11.1" fill="#222" stroke="none"/><path d="M12.433333333333334 0 V2.6 M11.133333333333333 2.6 H13.733333333333334 M17.633333333333333 0 V2.6 M16.333333333333332 2.6 H18.933333333333334 M12.433333333333334 11.5 V5.75 H17.633333333333333 V11.5"/><path d="M21.766666666666666 0.8 L29.396666666666665 10.7 M29.396666666666665 0.8 L21.766666666666666 10.7"/></g><text x="254.6" y="558.9000000000001" font-family="Liberation Sans" font-size="7" fill="#1e1e1e">A B</text><text x="255.0" y="580.1" font-family="Liberation Sans" font-size="7" fill="#1e1e1e">P T</text><text x="228.8" y="565.9000000000001" font-family="Liberation Sans" font-size="6" fill="#1e1e1e">a</text><text x="286.9" y="565.9000000000001" font-family="Liberation Sans" font-size="6" fill="#1e1e1e">b</text><g transform="translate(244.4,594.2)" fill="none" stroke="#222" stroke-width="0.95"><path d="M-12.5 -6.2 V-0.8 M-12.5 -5.8 H0.0 M-12.5 -1.8 H0.0 M0.0 -6.2 V-0.8" stroke-width="0.8"/><path d="M-12.5 5.8 H0.0 V11.5 H-12.5 Z"/><path d="M-10.5 11.5 L-0.3 0.4"/><path d="M-7.5 5.4 L-5.9 0.6 L-4.300000000000001 5.4 L-2.6999999999999993 0.6 L-1.0999999999999996 5.4"/><path d="M30.7 -6.2 V-0.8 M30.7 -5.8 H43.0 M30.7 -1.8 H43.0 M43.0 -6.2 V-0.8" stroke-width="0.8"/><path d="M30.7 5.8 H43.0 V11.5 H30.7 Z"/><path d="M31.0 0.4 L41.0 11.5"/><path d="M31.8 5.4 L33.4 0.6 L35.0 5.4 L36.6 0.6 L38.2 5.4"/><path d="M0 0 H30.7 V11.5 H0 Z M10.23 0 V11.5 M20.47 0 V11.5"/><path d="M2.0 10.9 V1.8 M7.0 0.8 V9.7"/><polygon points="1.0,2.8 3.0,2.8 2.0,0.6" fill="#222" stroke="none"/><polygon points="6.0,8.7 8.0,8.7 7.0,11.1" fill="#222" stroke="none"/><path d="M12.433333333333334 0 V2.6 M11.133333333333333 2.6 H13.733333333333334 M17.633333333333333 0 V2.6 M16.333333333333332 2.6 H18.933333333333334 M12.433333333333334 11.5 L17.633333333333333 3.5 M17.633333333333333 11.5 V8.9"/><path d="M21.766666666666666 0.8 L29.396666666666665 10.7 M29.396666666666665 0.8 L21.766666666666666 10.7"/></g><text x="254.6" y="591.8000000000001" font-family="Liberation Sans" font-size="7" fill="#1e1e1e">A B</text><text x="255.0" y="613.0" font-family="Liberation Sans" font-size="7" fill="#1e1e1e">P T</text><text x="228.8" y="598.8000000000001" font-family="Liberation Sans" font-size="6" fill="#1e1e1e">a</text><text x="286.9" y="598.8000000000001" font-family="Liberation Sans" font-size="6" fill="#1e1e1e">b</text><g transform="translate(242.7,659.1)" fill="none" stroke="#222" stroke-width="0.95"><path d="M-11.5 -5.5 V-2.1 M-11.5 -5.5 H0 M-11.5 -2.1 H0 M0 -5.5 V-2.1"/><path d="M-11.5 3.1 H0 V9.3 H-11.5 Z M-10.5 9.3 L-1 3.1"/><path d="M0 0 H11.4 V11.5 H0 Z"/><path d="M2.0 10.9 V1.8 M7.0 0.8 V9.7"/><polygon points="1.0,2.8 3.0,2.8 2.0,0.6" fill="#222" stroke="none"/><polygon points="6.0,8.7 8.0,8.7 7.0,11.1" fill="#222" stroke="none"/><path d="M13.6 0 V2.6 M12.2 2.6 H15 M18.7 0 V2.6 M17.3 2.6 H20.1 M13.6 11.5 V8.9 M12.2 8.9 H15 M18.7 11.5 V8.9 M17.3 8.9 H20.1"/><path d="M21.6 0 H32.7 V11.5 H21.6 Z"/><path d="M22.900000000000002 0.8 L30.53 10.7 M30.53 0.8 L22.900000000000002 10.7"/><path d="M32.7 -5.5 V-2.1 M32.7 -5.5 H44.1 M32.7 -2.1 H44.1 M44.1 -5.5 V-2.1"/><path d="M32.7 0 H44.1 V11.5 H32.7 Z M33.5 0.5 L43.5 11"/><path d="M33.5 4.8 L35 0.8 L36.5 4.8 L38 0.8 L39.5 4.8"/></g><text x="243.89999999999998" y="656.6" font-family="Liberation Sans" font-size="7" fill="#1e1e1e">AB</text><text x="243.89999999999998" y="677.4" font-family="Liberation Sans" font-size="7" fill="#1e1e1e">PT</text><text x="228.0" y="660.9" font-family="Liberation Sans" font-size="5.5" fill="#1e1e1e">a</text><text x="287.2" y="660.9" font-family="Liberation Sans" font-size="5.5" fill="#1e1e1e">b</text><g transform="translate(240,723.8)" fill="none" stroke="#222" stroke-width="0.95"><path d="M-6.5 8.8 L-5.3 5.2 L-4.1 8.8 L-2.9 5.2 L-1.7 8.8 L-0.4 5.2"/><path d="M0 0 H10.6 V11.7 H0 Z"/><path d="M3 11 V1.8 M8 0.8 V10"/><polygon points="2,2.8 4,2.8 3,0.6" fill="#222" stroke="none"/><polygon points="7,9 9,9 8,11.2" fill="#222" stroke="none"/><path d="M14 0 V2.6 M12.6 2.6 H15.4 M19 0 V2.6 M17.6 2.6 H20.4 M14 11.7 V9.1 M12.6 9.1 H15.4 M19 11.7 V9.1 M17.6 9.1 H20.4"/><path d="M21.7 0 H44 V11.7 H21.7 Z M33 0 V11.7"/><path d="M23.2 1 L31.5 10.8 M31.5 1 L23.2 10.8"/><path d="M33 1.5 H44 M34 1.6 L43 10.8"/></g><text x="240.3" y="721.5" font-family="Liberation Sans" font-size="7" fill="#1e1e1e">A B</text><text x="240.3" y="742.6999999999999" font-family="Liberation Sans" font-size="7" fill="#1e1e1e">P T</text><text x="285.6" y="735.0999999999999" font-family="Liberation Sans" font-size="5.5" fill="#1e1e1e">b</text><g transform="translate(240,757.0)" fill="none" stroke="#222" stroke-width="0.95"><path d="M-6.5 8.8 L-5.3 5.2 L-4.1 8.8 L-2.9 5.2 L-1.7 8.8 L-0.4 5.2"/><path d="M0 0 H10.6 V11.7 H0 Z"/><path d="M3 11 V1.8 M8 0.8 V10"/><polygon points="2,2.8 4,2.8 3,0.6" fill="#222" stroke="none"/><polygon points="7,9 9,9 8,11.2" fill="#222" stroke="none"/><path d="M13 0 V11.7 M19.5 0 V11.7 M13 5.85 H19.5"/><path d="M21.7 0 H44 V11.7 H21.7 Z M33 0 V11.7"/><path d="M23.2 1 L31.5 10.8 M31.5 1 L23.2 10.8"/><path d="M33 1.5 H44 M34 1.6 L43 10.8"/></g><text x="240.3" y="754.7" font-family="Liberation Sans" font-size="7" fill="#1e1e1e">A B</text><text x="240.3" y="775.9" font-family="Liberation Sans" font-size="7" fill="#1e1e1e">P T</text><text x="285.6" y="768.3" font-family="Liberation Sans" font-size="5.5" fill="#1e1e1e">b</text><g transform="translate(240,789.5999999999999)" fill="none" stroke="#222" stroke-width="0.95"><path d="M-6.5 8.8 L-5.3 5.2 L-4.1 8.8 L-2.9 5.2 L-1.7 8.8 L-0.4 5.2"/><path d="M0 0 H10.6 V11.7 H0 Z"/><path d="M3 11 V1.8 M8 0.8 V10"/><polygon points="2,2.8 4,2.8 3,0.6" fill="#222" stroke="none"/><polygon points="7,9 9,9 8,11.2" fill="#222" stroke="none"/><path d="M14 0 V2.6 M12.6 2.6 H15.4 M19 0 V2.6 M17.6 2.6 H20.4 M14 11.7 V9.1 M12.6 9.1 H15.4 M19 11.7 V9.1 M17.6 9.1 H20.4"/><path d="M21.7 0 H44 V11.7 H21.7 Z M33 0 V11.7"/><path d="M23 10.8 L31.5 1"/><path d="M33 1.5 H44 M34 1.6 L43 10.8"/></g><text x="240.3" y="787.3" font-family="Liberation Sans" font-size="7" fill="#1e1e1e">A B</text><text x="240.3" y="808.4999999999999" font-family="Liberation Sans" font-size="7" fill="#1e1e1e">P T</text><text x="285.6" y="800.8999999999999" font-family="Liberation Sans" font-size="5.5" fill="#1e1e1e">b</text>
</svg>
</body></html>
